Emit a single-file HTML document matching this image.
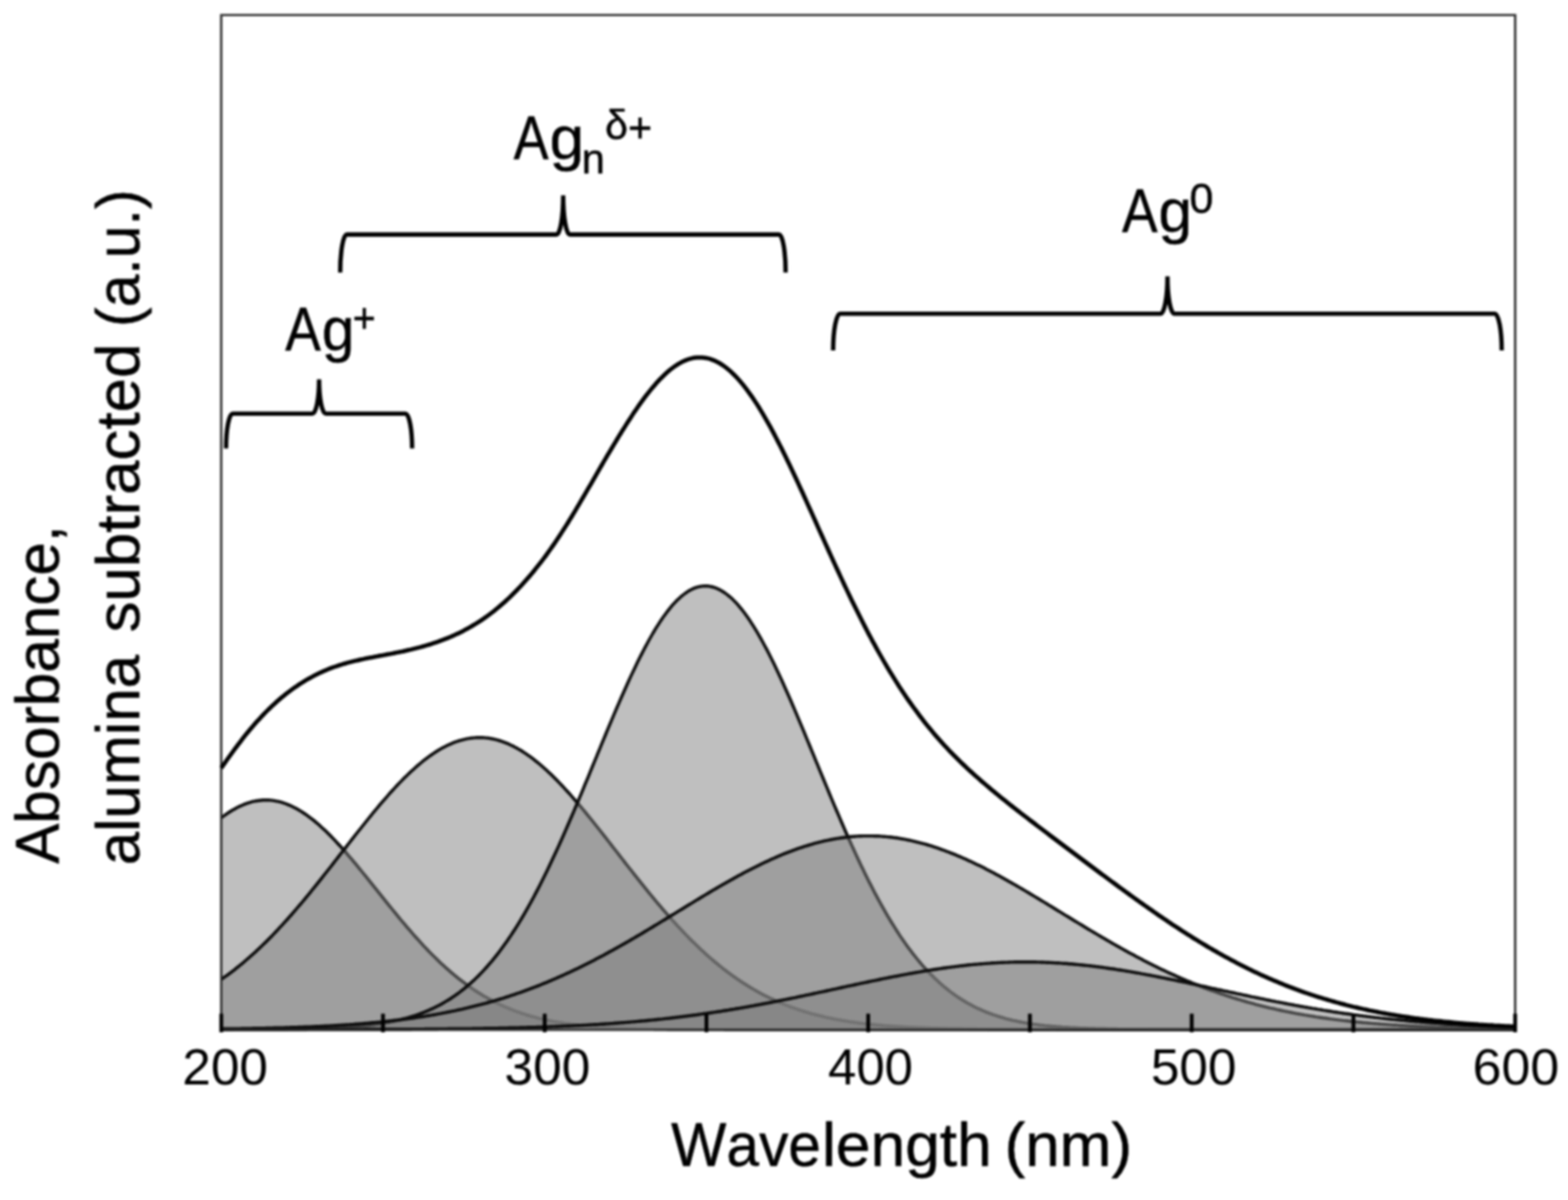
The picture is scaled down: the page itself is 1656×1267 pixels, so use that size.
<!DOCTYPE html>
<html lang="en"><head><meta charset="utf-8"><title>Absorbance spectrum</title>
<style>
html,body{margin:0;padding:0;background:#fff;}
body{width:1656px;height:1267px;overflow:hidden;}
svg{display:block;}
text{font-family:"Liberation Sans",sans-serif;fill:#000;stroke:#000;stroke-linejoin:round;font-kerning:none;white-space:pre;}
</style></head><body>
<svg width="1656" height="1267" viewBox="0 0 1656 1267">
<defs><filter id="soft" x="0" y="0" width="1656" height="1267" filterUnits="userSpaceOnUse" color-interpolation-filters="sRGB"><feGaussianBlur stdDeviation="0.8"/></filter></defs>
<rect width="1656" height="1267" fill="#fff"/>
<g filter="url(#soft)">
<g fill="#808080" fill-opacity="0.5" stroke="#0c0c0c" stroke-width="3.4" stroke-linejoin="round">
<path d="M233.7,863.5 L235.7,862.0 L237.7,860.5 L239.7,859.1 L241.7,857.8 L243.7,856.5 L245.7,855.3 L247.7,854.2 L249.7,853.1 L251.7,852.1 L253.7,851.1 L255.7,850.2 L257.6,849.4 L259.6,848.6 L261.6,847.9 L263.6,847.3 L265.6,846.7 L267.6,846.2 L269.6,845.8 L271.6,845.5 L273.6,845.2 L275.6,845.0 L277.6,844.8 L279.6,844.7 L281.6,844.7 L283.6,844.8 L285.6,844.9 L287.6,845.1 L289.6,845.4 L291.6,845.8 L293.6,846.2 L295.6,846.7 L297.6,847.2 L299.6,847.8 L301.6,848.5 L303.6,849.3 L305.6,850.1 L307.6,851.0 L309.6,852.0 L311.6,853.0 L313.6,854.1 L315.6,855.2 L317.6,856.4 L319.6,857.7 L321.6,859.0 L323.6,860.4 L325.6,861.8 L327.6,863.3 L329.6,864.8 L331.6,866.4 L333.6,868.1 L335.6,869.8 L337.6,871.6 L339.6,873.4 L341.6,875.2 L343.6,877.1 L345.6,879.0 L347.6,881.0 L349.6,883.0 L351.6,885.1 L353.6,887.2 L355.6,889.3 L357.6,891.5 L359.6,893.7 L361.6,895.9 L363.6,898.2 L365.6,900.4 L367.6,902.8 L369.6,905.1 L371.6,907.4 L373.6,909.8 L375.6,912.2 L377.6,914.6 L379.6,917.1 L381.6,919.5 L383.6,922.0 L385.6,924.4 L387.6,926.9 L389.6,929.4 L391.6,931.9 L393.6,934.4 L395.6,936.9 L397.6,939.4 L399.6,941.9 L401.6,944.4 L403.6,946.9 L405.6,949.4 L407.6,951.9 L409.6,954.4 L411.6,956.8 L413.6,959.3 L415.6,961.8 L417.6,964.2 L419.6,966.6 L421.6,969.1 L423.6,971.5 L425.6,973.8 L427.6,976.2 L429.6,978.6 L431.6,980.9 L433.6,983.2 L435.6,985.5 L437.6,987.8 L439.6,990.0 L441.6,992.2 L443.6,994.4 L445.6,996.6 L447.6,998.8 L449.6,1000.9 L451.6,1003.0 L453.6,1005.1 L455.6,1007.1 L457.6,1009.1 L459.6,1011.1 L461.6,1013.0 L463.6,1015.0 L465.6,1016.9 L467.6,1018.7 L469.6,1020.6 L471.6,1022.4 L473.6,1024.1 L475.6,1025.9 L477.6,1027.6 L479.6,1029.3 L481.6,1030.9 L483.6,1032.6 L485.6,1034.1 L487.6,1035.7 L489.6,1037.2 L491.6,1038.7 L493.6,1040.2 L495.6,1041.6 L497.6,1043.0 L499.6,1044.4 L501.6,1045.7 L503.6,1047.0 L505.6,1048.3 L507.6,1049.5 L509.6,1050.8 L511.6,1052.0 L513.6,1053.1 L515.6,1054.2 L517.6,1055.3 L519.6,1056.4 L521.6,1057.5 L523.6,1058.5 L525.6,1059.5 L527.6,1060.4 L529.6,1061.4 L531.6,1062.3 L533.6,1063.2 L535.6,1064.0 L537.6,1064.9 L539.6,1065.7 L541.6,1066.5 L543.6,1067.2 L545.6,1068.0 L547.6,1068.7 L549.6,1069.4 L551.6,1070.1 L553.6,1070.7 L555.6,1071.4 L557.6,1072.0 L559.6,1072.6 L561.6,1073.1 L563.6,1073.7 L565.6,1074.2 L567.6,1074.8 L569.6,1075.3 L571.6,1075.7 L573.6,1076.2 L575.6,1076.7 L577.6,1077.1 L579.6,1077.5 L581.6,1077.9 L583.6,1078.3 L585.6,1078.7 L587.6,1079.0 L589.6,1079.4 L591.6,1079.7 L593.6,1080.0 L595.6,1080.4 L597.6,1080.7 L599.6,1080.9 L601.6,1081.2 L603.6,1081.5 L605.6,1081.7 L607.6,1082.0 L609.6,1082.2 L611.6,1082.4 L613.6,1082.6 L615.6,1082.9 L617.6,1083.0 L619.6,1083.2 L621.6,1083.4 L623.6,1083.6 L625.6,1083.8 L627.6,1083.9 L629.6,1084.1 L631.6,1084.2 L633.6,1084.4 L635.6,1084.5 L637.6,1084.6 L639.6,1084.7 L641.6,1084.8 L643.6,1085.0 L645.6,1085.1 L647.6,1085.2 L649.6,1085.3 L651.6,1085.3 L653.6,1085.4 L655.6,1085.5 L657.6,1085.6 L659.6,1085.7 L661.6,1085.7 L663.6,1085.8 L665.6,1085.9 L667.6,1085.9 L669.6,1086.0 L671.6,1086.0 L673.6,1086.1 L675.6,1086.2 L677.6,1086.2 L679.6,1086.2 L681.6,1086.3 L683.6,1086.3 L685.6,1086.4 L687.6,1086.4 L689.6,1086.4 L691.6,1086.5 L693.6,1086.5 L695.6,1086.5 L697.6,1086.6 L699.6,1086.6 L701.6,1086.6 L703.6,1086.6 L705.6,1086.7 L707.6,1086.7 L709.6,1086.7 L711.6,1086.7 L713.6,1086.7 L715.6,1086.7 L717.6,1086.8 L719.6,1086.8 L721.6,1086.8 L723.6,1086.8 L725.6,1086.8 L727.6,1086.8 L729.6,1086.8 L731.6,1086.8 L733.6,1086.9 L735.6,1086.9 L737.6,1086.9 L739.6,1086.9 L741.6,1086.9 L743.6,1086.9 L745.6,1086.9 L747.6,1086.9 L749.6,1086.9 L751.6,1086.9 L753.6,1086.9 L755.6,1086.9 L757.6,1086.9 L759.6,1086.9 L761.6,1086.9 L763.6,1086.9 L765.6,1087.0 L767.6,1087.0 L769.6,1087.0 L771.6,1087.0 L773.6,1087.0 L775.6,1087.0 L777.6,1087.0 L779.6,1087.0 L781.6,1087.0 L783.6,1087.0 L785.6,1087.0 L787.6,1087.0 L789.6,1087.0 L791.6,1087.0 L793.6,1087.0 L795.6,1087.0 L797.6,1087.0 L799.6,1087.0 L801.6,1087.0 L803.6,1087.0 L805.6,1087.0 L807.6,1087.0 L809.6,1087.0 L811.6,1087.0 L813.6,1087.0 L815.6,1087.0 L817.6,1087.0 L819.6,1087.0 L821.6,1087.0 L823.6,1087.0 L825.6,1087.0 L827.6,1087.0 L829.6,1087.0 L831.6,1087.0 L833.6,1087.0 L835.6,1087.0 L837.6,1087.0 L839.6,1087.0 L841.6,1087.0 L843.6,1087.0 L845.6,1087.0 L847.6,1087.0 L849.6,1087.0 L851.6,1087.0 L853.6,1087.0 L855.6,1087.0 L857.6,1087.0 L859.6,1087.0 L861.6,1087.0 L863.6,1087.0 L865.6,1087.0 L867.6,1087.0 L869.6,1087.0 L871.6,1087.0 L873.6,1087.0 L875.6,1087.0 L877.6,1087.0 L879.6,1087.0 L881.6,1087.0 L883.6,1087.0 L885.6,1087.0 L887.6,1087.0 L889.6,1087.0 L891.6,1087.0 L893.6,1087.0 L895.6,1087.0 L897.6,1087.0 L899.6,1087.0 L901.6,1087.0 L903.6,1087.0 L905.6,1087.0 L907.6,1087.0 L909.6,1087.0 L911.6,1087.0 L913.6,1087.0 L915.6,1087.0 L917.6,1087.0 L919.6,1087.0 L921.6,1087.0 L923.6,1087.0 L925.6,1087.0 L927.6,1087.0 L929.6,1087.0 L931.6,1087.0 L933.6,1087.0 L935.6,1087.0 L937.6,1087.0 L939.6,1087.0 L941.6,1087.0 L943.6,1087.0 L945.6,1087.0 L947.6,1087.0 L949.6,1087.0 L951.6,1087.0 L953.6,1087.0 L955.6,1087.0 L957.6,1087.0 L959.6,1087.0 L961.6,1087.0 L963.6,1087.0 L965.6,1087.0 L967.6,1087.0 L969.6,1087.0 L971.6,1087.0 L973.6,1087.0 L975.6,1087.0 L977.6,1087.0 L979.6,1087.0 L981.6,1087.0 L983.6,1087.0 L985.6,1087.0 L987.6,1087.0 L989.6,1087.0 L991.6,1087.0 L993.6,1087.0 L995.6,1087.0 L997.6,1087.0 L999.6,1087.0 L1001.6,1087.0 L1003.6,1087.0 L1005.6,1087.0 L1007.6,1087.0 L1009.6,1087.0 L1011.6,1087.0 L1013.6,1087.0 L1015.6,1087.0 L1017.6,1087.0 L1019.6,1087.0 L1021.6,1087.0 L1023.6,1087.0 L1025.7,1087.0 L1027.7,1087.0 L1029.7,1087.0 L1031.7,1087.0 L1033.7,1087.0 L1035.7,1087.0 L1037.7,1087.0 L1039.7,1087.0 L1041.7,1087.0 L1043.7,1087.0 L1045.7,1087.0 L1047.7,1087.0 L1049.7,1087.0 L1051.7,1087.0 L1053.7,1087.0 L1055.7,1087.0 L1057.7,1087.0 L1059.7,1087.0 L1061.7,1087.0 L1063.7,1087.0 L1065.7,1087.0 L1067.7,1087.0 L1069.7,1087.0 L1071.7,1087.0 L1073.7,1087.0 L1075.7,1087.0 L1077.7,1087.0 L1079.7,1087.0 L1081.7,1087.0 L1083.7,1087.0 L1085.7,1087.0 L1087.7,1087.0 L1089.7,1087.0 L1091.7,1087.0 L1093.7,1087.0 L1095.7,1087.0 L1097.7,1087.0 L1099.7,1087.0 L1101.7,1087.0 L1103.7,1087.0 L1105.7,1087.0 L1107.7,1087.0 L1109.7,1087.0 L1111.7,1087.0 L1113.7,1087.0 L1115.7,1087.0 L1117.7,1087.0 L1119.7,1087.0 L1121.7,1087.0 L1123.7,1087.0 L1125.7,1087.0 L1127.7,1087.0 L1129.7,1087.0 L1131.7,1087.0 L1133.7,1087.0 L1135.7,1087.0 L1137.7,1087.0 L1139.7,1087.0 L1141.7,1087.0 L1143.7,1087.0 L1145.7,1087.0 L1147.7,1087.0 L1149.7,1087.0 L1151.7,1087.0 L1153.7,1087.0 L1155.7,1087.0 L1157.7,1087.0 L1159.7,1087.0 L1161.7,1087.0 L1163.7,1087.0 L1165.7,1087.0 L1167.7,1087.0 L1169.7,1087.0 L1171.7,1087.0 L1173.7,1087.0 L1175.7,1087.0 L1177.7,1087.0 L1179.7,1087.0 L1181.7,1087.0 L1183.7,1087.0 L1185.7,1087.0 L1187.7,1087.0 L1189.7,1087.0 L1191.7,1087.0 L1193.7,1087.0 L1195.7,1087.0 L1197.7,1087.0 L1199.7,1087.0 L1201.7,1087.0 L1203.7,1087.0 L1205.7,1087.0 L1207.7,1087.0 L1209.7,1087.0 L1211.7,1087.0 L1213.7,1087.0 L1215.7,1087.0 L1217.7,1087.0 L1219.7,1087.0 L1221.7,1087.0 L1223.7,1087.0 L1225.7,1087.0 L1227.7,1087.0 L1229.7,1087.0 L1231.7,1087.0 L1233.7,1087.0 L1235.7,1087.0 L1237.7,1087.0 L1239.7,1087.0 L1241.7,1087.0 L1243.7,1087.0 L1245.7,1087.0 L1247.7,1087.0 L1249.7,1087.0 L1251.7,1087.0 L1253.7,1087.0 L1255.7,1087.0 L1257.7,1087.0 L1259.7,1087.0 L1261.7,1087.0 L1263.7,1087.0 L1265.7,1087.0 L1267.7,1087.0 L1269.7,1087.0 L1271.7,1087.0 L1273.7,1087.0 L1275.7,1087.0 L1277.7,1087.0 L1279.7,1087.0 L1281.7,1087.0 L1283.7,1087.0 L1285.7,1087.0 L1287.7,1087.0 L1289.7,1087.0 L1291.7,1087.0 L1293.7,1087.0 L1295.7,1087.0 L1297.7,1087.0 L1299.7,1087.0 L1301.7,1087.0 L1303.7,1087.0 L1305.7,1087.0 L1307.7,1087.0 L1309.7,1087.0 L1311.7,1087.0 L1313.7,1087.0 L1315.7,1087.0 L1317.7,1087.0 L1319.7,1087.0 L1321.7,1087.0 L1323.7,1087.0 L1325.7,1087.0 L1327.7,1087.0 L1329.7,1087.0 L1331.7,1087.0 L1333.7,1087.0 L1335.7,1087.0 L1337.7,1087.0 L1339.7,1087.0 L1341.7,1087.0 L1343.7,1087.0 L1345.7,1087.0 L1347.7,1087.0 L1349.7,1087.0 L1351.7,1087.0 L1353.7,1087.0 L1355.7,1087.0 L1357.7,1087.0 L1359.7,1087.0 L1361.7,1087.0 L1363.7,1087.0 L1365.7,1087.0 L1367.7,1087.0 L1369.7,1087.0 L1371.7,1087.0 L1373.7,1087.0 L1375.7,1087.0 L1377.7,1087.0 L1379.7,1087.0 L1381.7,1087.0 L1383.7,1087.0 L1385.7,1087.0 L1387.7,1087.0 L1389.7,1087.0 L1391.7,1087.0 L1393.7,1087.0 L1395.7,1087.0 L1397.7,1087.0 L1399.7,1087.0 L1401.7,1087.0 L1403.7,1087.0 L1405.7,1087.0 L1407.7,1087.0 L1409.7,1087.0 L1411.7,1087.0 L1413.7,1087.0 L1415.7,1087.0 L1417.7,1087.0 L1419.7,1087.0 L1421.7,1087.0 L1423.7,1087.0 L1425.7,1087.0 L1427.7,1087.0 L1429.7,1087.0 L1431.7,1087.0 L1433.7,1087.0 L1435.7,1087.0 L1437.7,1087.0 L1439.7,1087.0 L1441.7,1087.0 L1443.7,1087.0 L1445.7,1087.0 L1447.7,1087.0 L1449.7,1087.0 L1451.7,1087.0 L1453.7,1087.0 L1455.7,1087.0 L1457.7,1087.0 L1459.7,1087.0 L1461.7,1087.0 L1463.7,1087.0 L1465.7,1087.0 L1467.7,1087.0 L1469.7,1087.0 L1471.7,1087.0 L1473.7,1087.0 L1475.7,1087.0 L1477.7,1087.0 L1479.7,1087.0 L1481.7,1087.0 L1483.7,1087.0 L1485.7,1087.0 L1487.7,1087.0 L1489.7,1087.0 L1491.7,1087.0 L1493.7,1087.0 L1495.7,1087.0 L1497.7,1087.0 L1499.7,1087.0 L1501.7,1087.0 L1503.7,1087.0 L1505.7,1087.0 L1507.7,1087.0 L1509.7,1087.0 L1511.7,1087.0 L1513.7,1087.0 L1515.7,1087.0 L1517.7,1087.0 L1519.7,1087.0 L1521.7,1087.0 L1523.7,1087.0 L1525.7,1087.0 L1527.7,1087.0 L1529.7,1087.0 L1531.7,1087.0 L1533.7,1087.0 L1535.7,1087.0 L1537.7,1087.0 L1539.7,1087.0 L1541.7,1087.0 L1543.7,1087.0 L1545.7,1087.0 L1547.7,1087.0 L1549.7,1087.0 L1551.7,1087.0 L1553.7,1087.0 L1555.7,1087.0 L1557.7,1087.0 L1559.7,1087.0 L1561.7,1087.0 L1563.7,1087.0 L1565.7,1087.0 L1567.7,1087.0 L1569.7,1087.0 L1571.7,1087.0 L1573.7,1087.0 L1575.7,1087.0 L1577.7,1087.0 L1579.7,1087.0 L1581.7,1087.0 L1583.7,1087.0 L1585.7,1087.0 L1587.7,1087.0 L1589.7,1087.0 L1591.7,1087.0 L1593.7,1087.0 L1595.7,1087.0 L1597.7,1087.0 L1600.2,1087.0 L1600.2,1087.0 L233.7,1087.0 Z" stroke="none"/>
<path d="M233.7,863.5 L235.7,862.0 L237.7,860.5 L239.7,859.1 L241.7,857.8 L243.7,856.5 L245.7,855.3 L247.7,854.2 L249.7,853.1 L251.7,852.1 L253.7,851.1 L255.7,850.2 L257.6,849.4 L259.6,848.6 L261.6,847.9 L263.6,847.3 L265.6,846.7 L267.6,846.2 L269.6,845.8 L271.6,845.5 L273.6,845.2 L275.6,845.0 L277.6,844.8 L279.6,844.7 L281.6,844.7 L283.6,844.8 L285.6,844.9 L287.6,845.1 L289.6,845.4 L291.6,845.8 L293.6,846.2 L295.6,846.7 L297.6,847.2 L299.6,847.8 L301.6,848.5 L303.6,849.3 L305.6,850.1 L307.6,851.0 L309.6,852.0 L311.6,853.0 L313.6,854.1 L315.6,855.2 L317.6,856.4 L319.6,857.7 L321.6,859.0 L323.6,860.4 L325.6,861.8 L327.6,863.3 L329.6,864.8 L331.6,866.4 L333.6,868.1 L335.6,869.8 L337.6,871.6 L339.6,873.4 L341.6,875.2 L343.6,877.1 L345.6,879.0 L347.6,881.0 L349.6,883.0 L351.6,885.1 L353.6,887.2 L355.6,889.3 L357.6,891.5 L359.6,893.7 L361.6,895.9 L363.6,898.2 L365.6,900.4 L367.6,902.8 L369.6,905.1 L371.6,907.4 L373.6,909.8 L375.6,912.2 L377.6,914.6 L379.6,917.1 L381.6,919.5 L383.6,922.0 L385.6,924.4 L387.6,926.9 L389.6,929.4 L391.6,931.9 L393.6,934.4 L395.6,936.9 L397.6,939.4 L399.6,941.9 L401.6,944.4 L403.6,946.9 L405.6,949.4 L407.6,951.9 L409.6,954.4 L411.6,956.8 L413.6,959.3 L415.6,961.8 L417.6,964.2 L419.6,966.6 L421.6,969.1 L423.6,971.5 L425.6,973.8 L427.6,976.2 L429.6,978.6 L431.6,980.9 L433.6,983.2 L435.6,985.5 L437.6,987.8 L439.6,990.0 L441.6,992.2 L443.6,994.4 L445.6,996.6 L447.6,998.8 L449.6,1000.9 L451.6,1003.0 L453.6,1005.1 L455.6,1007.1 L457.6,1009.1 L459.6,1011.1 L461.6,1013.0 L463.6,1015.0 L465.6,1016.9 L467.6,1018.7 L469.6,1020.6 L471.6,1022.4 L473.6,1024.1 L475.6,1025.9 L477.6,1027.6 L479.6,1029.3 L481.6,1030.9 L483.6,1032.6 L485.6,1034.1 L487.6,1035.7 L489.6,1037.2 L491.6,1038.7 L493.6,1040.2 L495.6,1041.6 L497.6,1043.0 L499.6,1044.4 L501.6,1045.7 L503.6,1047.0 L505.6,1048.3 L507.6,1049.5 L509.6,1050.8 L511.6,1052.0 L513.6,1053.1 L515.6,1054.2 L517.6,1055.3 L519.6,1056.4 L521.6,1057.5 L523.6,1058.5 L525.6,1059.5 L527.6,1060.4 L529.6,1061.4 L531.6,1062.3 L533.6,1063.2 L535.6,1064.0 L537.6,1064.9 L539.6,1065.7 L541.6,1066.5 L543.6,1067.2 L545.6,1068.0 L547.6,1068.7 L549.6,1069.4 L551.6,1070.1 L553.6,1070.7 L555.6,1071.4 L557.6,1072.0 L559.6,1072.6 L561.6,1073.1 L563.6,1073.7 L565.6,1074.2 L567.6,1074.8 L569.6,1075.3 L571.6,1075.7 L573.6,1076.2 L575.6,1076.7 L577.6,1077.1 L579.6,1077.5 L581.6,1077.9 L583.6,1078.3 L585.6,1078.7 L587.6,1079.0 L589.6,1079.4 L591.6,1079.7 L593.6,1080.0 L595.6,1080.4 L597.6,1080.7 L599.6,1080.9 L601.6,1081.2 L603.6,1081.5 L605.6,1081.7 L607.6,1082.0 L609.6,1082.2 L611.6,1082.4 L613.6,1082.6 L615.6,1082.9 L617.6,1083.0 L619.6,1083.2 L621.6,1083.4 L623.6,1083.6 L625.6,1083.8 L627.6,1083.9 L629.6,1084.1 L631.6,1084.2 L633.6,1084.4 L635.6,1084.5 L637.6,1084.6 L639.6,1084.7 L641.6,1084.8 L643.6,1085.0 L645.6,1085.1 L647.6,1085.2 L649.6,1085.3 L651.6,1085.3 L653.6,1085.4 L655.6,1085.5 L657.6,1085.6 L659.6,1085.7 L661.6,1085.7 L663.6,1085.8 L665.6,1085.9 L667.6,1085.9 L669.6,1086.0 L671.6,1086.0 L673.6,1086.1 L675.6,1086.2 L677.6,1086.2 L679.6,1086.2 L681.6,1086.3 L683.6,1086.3 L685.6,1086.4 L687.6,1086.4 L689.6,1086.4 L691.6,1086.5 L693.6,1086.5 L695.6,1086.5 L697.6,1086.6 L699.6,1086.6 L701.6,1086.6 L703.6,1086.6 L705.6,1086.7 L707.6,1086.7 L709.6,1086.7 L711.6,1086.7 L713.6,1086.7 L715.6,1086.7 L717.6,1086.8 L719.6,1086.8 L721.6,1086.8 L723.6,1086.8 L725.6,1086.8 L727.6,1086.8 L729.6,1086.8 L731.6,1086.8 L733.6,1086.9 L735.6,1086.9 L737.6,1086.9 L739.6,1086.9 L741.6,1086.9 L743.6,1086.9 L745.6,1086.9 L747.6,1086.9 L749.6,1086.9 L751.6,1086.9 L753.6,1086.9 L755.6,1086.9 L757.6,1086.9 L759.6,1086.9 L761.6,1086.9 L763.6,1086.9 L765.6,1087.0 L767.6,1087.0 L769.6,1087.0 L771.6,1087.0 L773.6,1087.0 L775.6,1087.0 L777.6,1087.0 L779.6,1087.0 L781.6,1087.0 L783.6,1087.0 L785.6,1087.0 L787.6,1087.0 L789.6,1087.0 L791.6,1087.0 L793.6,1087.0 L795.6,1087.0 L797.6,1087.0 L799.6,1087.0 L801.6,1087.0 L803.6,1087.0 L805.6,1087.0 L807.6,1087.0 L809.6,1087.0 L811.6,1087.0 L813.6,1087.0 L815.6,1087.0 L817.6,1087.0 L819.6,1087.0 L821.6,1087.0 L823.6,1087.0 L825.6,1087.0 L827.6,1087.0 L829.6,1087.0 L831.6,1087.0 L833.6,1087.0 L835.6,1087.0 L837.6,1087.0 L839.6,1087.0 L841.6,1087.0 L843.6,1087.0 L845.6,1087.0 L847.6,1087.0 L849.6,1087.0 L851.6,1087.0 L853.6,1087.0 L855.6,1087.0 L857.6,1087.0 L859.6,1087.0 L861.6,1087.0 L863.6,1087.0 L865.6,1087.0 L867.6,1087.0 L869.6,1087.0 L871.6,1087.0 L873.6,1087.0 L875.6,1087.0 L877.6,1087.0 L879.6,1087.0 L881.6,1087.0 L883.6,1087.0 L885.6,1087.0 L887.6,1087.0 L889.6,1087.0 L891.6,1087.0 L893.6,1087.0 L895.6,1087.0 L897.6,1087.0 L899.6,1087.0 L901.6,1087.0 L903.6,1087.0 L905.6,1087.0 L907.6,1087.0 L909.6,1087.0 L911.6,1087.0 L913.6,1087.0 L915.6,1087.0 L917.6,1087.0 L919.6,1087.0 L921.6,1087.0 L923.6,1087.0 L925.6,1087.0 L927.6,1087.0 L929.6,1087.0 L931.6,1087.0 L933.6,1087.0 L935.6,1087.0 L937.6,1087.0 L939.6,1087.0 L941.6,1087.0 L943.6,1087.0 L945.6,1087.0 L947.6,1087.0 L949.6,1087.0 L951.6,1087.0 L953.6,1087.0 L955.6,1087.0 L957.6,1087.0 L959.6,1087.0 L961.6,1087.0 L963.6,1087.0 L965.6,1087.0 L967.6,1087.0 L969.6,1087.0 L971.6,1087.0 L973.6,1087.0 L975.6,1087.0 L977.6,1087.0 L979.6,1087.0 L981.6,1087.0 L983.6,1087.0 L985.6,1087.0 L987.6,1087.0 L989.6,1087.0 L991.6,1087.0 L993.6,1087.0 L995.6,1087.0 L997.6,1087.0 L999.6,1087.0 L1001.6,1087.0 L1003.6,1087.0 L1005.6,1087.0 L1007.6,1087.0 L1009.6,1087.0 L1011.6,1087.0 L1013.6,1087.0 L1015.6,1087.0 L1017.6,1087.0 L1019.6,1087.0 L1021.6,1087.0 L1023.6,1087.0 L1025.7,1087.0 L1027.7,1087.0 L1029.7,1087.0 L1031.7,1087.0 L1033.7,1087.0 L1035.7,1087.0 L1037.7,1087.0 L1039.7,1087.0 L1041.7,1087.0 L1043.7,1087.0 L1045.7,1087.0 L1047.7,1087.0 L1049.7,1087.0 L1051.7,1087.0 L1053.7,1087.0 L1055.7,1087.0 L1057.7,1087.0 L1059.7,1087.0 L1061.7,1087.0 L1063.7,1087.0 L1065.7,1087.0 L1067.7,1087.0 L1069.7,1087.0 L1071.7,1087.0 L1073.7,1087.0 L1075.7,1087.0 L1077.7,1087.0 L1079.7,1087.0 L1081.7,1087.0 L1083.7,1087.0 L1085.7,1087.0 L1087.7,1087.0 L1089.7,1087.0 L1091.7,1087.0 L1093.7,1087.0 L1095.7,1087.0 L1097.7,1087.0 L1099.7,1087.0 L1101.7,1087.0 L1103.7,1087.0 L1105.7,1087.0 L1107.7,1087.0 L1109.7,1087.0 L1111.7,1087.0 L1113.7,1087.0 L1115.7,1087.0 L1117.7,1087.0 L1119.7,1087.0 L1121.7,1087.0 L1123.7,1087.0 L1125.7,1087.0 L1127.7,1087.0 L1129.7,1087.0 L1131.7,1087.0 L1133.7,1087.0 L1135.7,1087.0 L1137.7,1087.0 L1139.7,1087.0 L1141.7,1087.0 L1143.7,1087.0 L1145.7,1087.0 L1147.7,1087.0 L1149.7,1087.0 L1151.7,1087.0 L1153.7,1087.0 L1155.7,1087.0 L1157.7,1087.0 L1159.7,1087.0 L1161.7,1087.0 L1163.7,1087.0 L1165.7,1087.0 L1167.7,1087.0 L1169.7,1087.0 L1171.7,1087.0 L1173.7,1087.0 L1175.7,1087.0 L1177.7,1087.0 L1179.7,1087.0 L1181.7,1087.0 L1183.7,1087.0 L1185.7,1087.0 L1187.7,1087.0 L1189.7,1087.0 L1191.7,1087.0 L1193.7,1087.0 L1195.7,1087.0 L1197.7,1087.0 L1199.7,1087.0 L1201.7,1087.0 L1203.7,1087.0 L1205.7,1087.0 L1207.7,1087.0 L1209.7,1087.0 L1211.7,1087.0 L1213.7,1087.0 L1215.7,1087.0 L1217.7,1087.0 L1219.7,1087.0 L1221.7,1087.0 L1223.7,1087.0 L1225.7,1087.0 L1227.7,1087.0 L1229.7,1087.0 L1231.7,1087.0 L1233.7,1087.0 L1235.7,1087.0 L1237.7,1087.0 L1239.7,1087.0 L1241.7,1087.0 L1243.7,1087.0 L1245.7,1087.0 L1247.7,1087.0 L1249.7,1087.0 L1251.7,1087.0 L1253.7,1087.0 L1255.7,1087.0 L1257.7,1087.0 L1259.7,1087.0 L1261.7,1087.0 L1263.7,1087.0 L1265.7,1087.0 L1267.7,1087.0 L1269.7,1087.0 L1271.7,1087.0 L1273.7,1087.0 L1275.7,1087.0 L1277.7,1087.0 L1279.7,1087.0 L1281.7,1087.0 L1283.7,1087.0 L1285.7,1087.0 L1287.7,1087.0 L1289.7,1087.0 L1291.7,1087.0 L1293.7,1087.0 L1295.7,1087.0 L1297.7,1087.0 L1299.7,1087.0 L1301.7,1087.0 L1303.7,1087.0 L1305.7,1087.0 L1307.7,1087.0 L1309.7,1087.0 L1311.7,1087.0 L1313.7,1087.0 L1315.7,1087.0 L1317.7,1087.0 L1319.7,1087.0 L1321.7,1087.0 L1323.7,1087.0 L1325.7,1087.0 L1327.7,1087.0 L1329.7,1087.0 L1331.7,1087.0 L1333.7,1087.0 L1335.7,1087.0 L1337.7,1087.0 L1339.7,1087.0 L1341.7,1087.0 L1343.7,1087.0 L1345.7,1087.0 L1347.7,1087.0 L1349.7,1087.0 L1351.7,1087.0 L1353.7,1087.0 L1355.7,1087.0 L1357.7,1087.0 L1359.7,1087.0 L1361.7,1087.0 L1363.7,1087.0 L1365.7,1087.0 L1367.7,1087.0 L1369.7,1087.0 L1371.7,1087.0 L1373.7,1087.0 L1375.7,1087.0 L1377.7,1087.0 L1379.7,1087.0 L1381.7,1087.0 L1383.7,1087.0 L1385.7,1087.0 L1387.7,1087.0 L1389.7,1087.0 L1391.7,1087.0 L1393.7,1087.0 L1395.7,1087.0 L1397.7,1087.0 L1399.7,1087.0 L1401.7,1087.0 L1403.7,1087.0 L1405.7,1087.0 L1407.7,1087.0 L1409.7,1087.0 L1411.7,1087.0 L1413.7,1087.0 L1415.7,1087.0 L1417.7,1087.0 L1419.7,1087.0 L1421.7,1087.0 L1423.7,1087.0 L1425.7,1087.0 L1427.7,1087.0 L1429.7,1087.0 L1431.7,1087.0 L1433.7,1087.0 L1435.7,1087.0 L1437.7,1087.0 L1439.7,1087.0 L1441.7,1087.0 L1443.7,1087.0 L1445.7,1087.0 L1447.7,1087.0 L1449.7,1087.0 L1451.7,1087.0 L1453.7,1087.0 L1455.7,1087.0 L1457.7,1087.0 L1459.7,1087.0 L1461.7,1087.0 L1463.7,1087.0 L1465.7,1087.0 L1467.7,1087.0 L1469.7,1087.0 L1471.7,1087.0 L1473.7,1087.0 L1475.7,1087.0 L1477.7,1087.0 L1479.7,1087.0 L1481.7,1087.0 L1483.7,1087.0 L1485.7,1087.0 L1487.7,1087.0 L1489.7,1087.0 L1491.7,1087.0 L1493.7,1087.0 L1495.7,1087.0 L1497.7,1087.0 L1499.7,1087.0 L1501.7,1087.0 L1503.7,1087.0 L1505.7,1087.0 L1507.7,1087.0 L1509.7,1087.0 L1511.7,1087.0 L1513.7,1087.0 L1515.7,1087.0 L1517.7,1087.0 L1519.7,1087.0 L1521.7,1087.0 L1523.7,1087.0 L1525.7,1087.0 L1527.7,1087.0 L1529.7,1087.0 L1531.7,1087.0 L1533.7,1087.0 L1535.7,1087.0 L1537.7,1087.0 L1539.7,1087.0 L1541.7,1087.0 L1543.7,1087.0 L1545.7,1087.0 L1547.7,1087.0 L1549.7,1087.0 L1551.7,1087.0 L1553.7,1087.0 L1555.7,1087.0 L1557.7,1087.0 L1559.7,1087.0 L1561.7,1087.0 L1563.7,1087.0 L1565.7,1087.0 L1567.7,1087.0 L1569.7,1087.0 L1571.7,1087.0 L1573.7,1087.0 L1575.7,1087.0 L1577.7,1087.0 L1579.7,1087.0 L1581.7,1087.0 L1583.7,1087.0 L1585.7,1087.0 L1587.7,1087.0 L1589.7,1087.0 L1591.7,1087.0 L1593.7,1087.0 L1595.7,1087.0 L1597.7,1087.0 L1600.2,1087.0" fill="none"/>
<path d="M233.7,1034.0 L235.7,1032.6 L237.7,1031.2 L239.7,1029.8 L241.7,1028.3 L243.7,1026.8 L245.7,1025.3 L247.7,1023.8 L249.7,1022.2 L251.7,1020.6 L253.7,1019.0 L255.7,1017.4 L257.6,1015.7 L259.6,1014.0 L261.6,1012.3 L263.6,1010.6 L265.6,1008.8 L267.6,1007.0 L269.6,1005.2 L271.6,1003.3 L273.6,1001.5 L275.6,999.6 L277.6,997.6 L279.6,995.7 L281.6,993.7 L283.6,991.7 L285.6,989.7 L287.6,987.7 L289.6,985.6 L291.6,983.5 L293.6,981.4 L295.6,979.2 L297.6,977.1 L299.6,974.9 L301.6,972.7 L303.6,970.5 L305.6,968.2 L307.6,966.0 L309.6,963.7 L311.6,961.4 L313.6,959.0 L315.6,956.7 L317.6,954.3 L319.6,952.0 L321.6,949.6 L323.6,947.2 L325.6,944.7 L327.6,942.3 L329.6,939.8 L331.6,937.4 L333.6,934.9 L335.6,932.4 L337.6,929.9 L339.6,927.4 L341.6,924.8 L343.6,922.3 L345.6,919.8 L347.6,917.2 L349.6,914.7 L351.6,912.1 L353.6,909.5 L355.6,907.0 L357.6,904.4 L359.6,901.8 L361.6,899.3 L363.6,896.7 L365.6,894.1 L367.6,891.5 L369.6,889.0 L371.6,886.4 L373.6,883.9 L375.6,881.3 L377.6,878.8 L379.6,876.2 L381.6,873.7 L383.6,871.2 L385.6,868.7 L387.6,866.2 L389.6,863.7 L391.6,861.3 L393.6,858.8 L395.6,856.4 L397.6,854.0 L399.6,851.6 L401.6,849.2 L403.6,846.9 L405.6,844.6 L407.6,842.3 L409.6,840.0 L411.6,837.7 L413.6,835.5 L415.6,833.3 L417.6,831.2 L419.6,829.0 L421.6,826.9 L423.6,824.9 L425.6,822.8 L427.6,820.8 L429.6,818.9 L431.6,816.9 L433.6,815.0 L435.6,813.2 L437.6,811.4 L439.6,809.6 L441.6,807.9 L443.6,806.2 L445.6,804.5 L447.6,802.9 L449.6,801.4 L451.6,799.8 L453.6,798.4 L455.6,797.0 L457.6,795.6 L459.6,794.3 L461.6,793.0 L463.6,791.8 L465.6,790.6 L467.6,789.5 L469.6,788.4 L471.6,787.4 L473.6,786.5 L475.6,785.6 L477.6,784.7 L479.6,783.9 L481.6,783.2 L483.6,782.5 L485.6,781.9 L487.6,781.3 L489.6,780.8 L491.6,780.3 L493.6,779.9 L495.6,779.6 L497.6,779.3 L499.6,779.1 L501.6,778.9 L503.6,778.8 L505.6,778.7 L507.6,778.7 L509.6,778.8 L511.6,778.9 L513.6,779.1 L515.6,779.3 L517.6,779.6 L519.6,780.0 L521.6,780.4 L523.6,780.9 L525.6,781.4 L527.6,782.0 L529.6,782.6 L531.6,783.3 L533.6,784.1 L535.6,784.9 L537.6,785.7 L539.6,786.7 L541.6,787.6 L543.6,788.7 L545.6,789.7 L547.6,790.9 L549.6,792.0 L551.6,793.3 L553.6,794.6 L555.6,795.9 L557.6,797.3 L559.6,798.7 L561.6,800.2 L563.6,801.7 L565.6,803.3 L567.6,804.9 L569.6,806.5 L571.6,808.2 L573.6,810.0 L575.6,811.8 L577.6,813.6 L579.6,815.4 L581.6,817.3 L583.6,819.3 L585.6,821.3 L587.6,823.3 L589.6,825.3 L591.6,827.4 L593.6,829.5 L595.6,831.6 L597.6,833.8 L599.6,836.0 L601.6,838.2 L603.6,840.5 L605.6,842.8 L607.6,845.1 L609.6,847.4 L611.6,849.8 L613.6,852.1 L615.6,854.5 L617.6,856.9 L619.6,859.4 L621.6,861.8 L623.6,864.3 L625.6,866.8 L627.6,869.3 L629.6,871.8 L631.6,874.3 L633.6,876.8 L635.6,879.3 L637.6,881.9 L639.6,884.4 L641.6,887.0 L643.6,889.5 L645.6,892.1 L647.6,894.7 L649.6,897.3 L651.6,899.8 L653.6,902.4 L655.6,905.0 L657.6,907.5 L659.6,910.1 L661.6,912.7 L663.6,915.2 L665.6,917.8 L667.6,920.3 L669.6,922.9 L671.6,925.4 L673.6,927.9 L675.6,930.4 L677.6,932.9 L679.6,935.4 L681.6,937.9 L683.6,940.4 L685.6,942.8 L687.6,945.3 L689.6,947.7 L691.6,950.1 L693.6,952.5 L695.6,954.9 L697.6,957.2 L699.6,959.6 L701.6,961.9 L703.6,964.2 L705.6,966.5 L707.6,968.7 L709.6,971.0 L711.6,973.2 L713.6,975.4 L715.6,977.6 L717.6,979.7 L719.6,981.9 L721.6,984.0 L723.6,986.1 L725.6,988.1 L727.6,990.2 L729.6,992.2 L731.6,994.2 L733.6,996.1 L735.6,998.1 L737.6,1000.0 L739.6,1001.9 L741.6,1003.7 L743.6,1005.6 L745.6,1007.4 L747.6,1009.2 L749.6,1011.0 L751.6,1012.7 L753.6,1014.4 L755.6,1016.1 L757.6,1017.7 L759.6,1019.4 L761.6,1021.0 L763.6,1022.6 L765.6,1024.1 L767.6,1025.7 L769.6,1027.2 L771.6,1028.6 L773.6,1030.1 L775.6,1031.5 L777.6,1032.9 L779.6,1034.3 L781.6,1035.6 L783.6,1037.0 L785.6,1038.3 L787.6,1039.5 L789.6,1040.8 L791.6,1042.0 L793.6,1043.2 L795.6,1044.4 L797.6,1045.6 L799.6,1046.7 L801.6,1047.8 L803.6,1048.9 L805.6,1049.9 L807.6,1051.0 L809.6,1052.0 L811.6,1053.0 L813.6,1054.0 L815.6,1054.9 L817.6,1055.8 L819.6,1056.7 L821.6,1057.6 L823.6,1058.5 L825.6,1059.3 L827.6,1060.2 L829.6,1061.0 L831.6,1061.8 L833.6,1062.5 L835.6,1063.3 L837.6,1064.0 L839.6,1064.7 L841.6,1065.4 L843.6,1066.1 L845.6,1066.7 L847.6,1067.4 L849.6,1068.0 L851.6,1068.6 L853.6,1069.2 L855.6,1069.8 L857.6,1070.4 L859.6,1070.9 L861.6,1071.4 L863.6,1071.9 L865.6,1072.4 L867.6,1072.9 L869.6,1073.4 L871.6,1073.9 L873.6,1074.3 L875.6,1074.7 L877.6,1075.2 L879.6,1075.6 L881.6,1076.0 L883.6,1076.4 L885.6,1076.7 L887.6,1077.1 L889.6,1077.5 L891.6,1077.8 L893.6,1078.1 L895.6,1078.4 L897.6,1078.8 L899.6,1079.1 L901.6,1079.3 L903.6,1079.6 L905.6,1079.9 L907.6,1080.2 L909.6,1080.4 L911.6,1080.7 L913.6,1080.9 L915.6,1081.1 L917.6,1081.4 L919.6,1081.6 L921.6,1081.8 L923.6,1082.0 L925.6,1082.2 L927.6,1082.4 L929.6,1082.5 L931.6,1082.7 L933.6,1082.9 L935.6,1083.1 L937.6,1083.2 L939.6,1083.4 L941.6,1083.5 L943.6,1083.7 L945.6,1083.8 L947.6,1083.9 L949.6,1084.0 L951.6,1084.2 L953.6,1084.3 L955.6,1084.4 L957.6,1084.5 L959.6,1084.6 L961.6,1084.7 L963.6,1084.8 L965.6,1084.9 L967.6,1085.0 L969.6,1085.1 L971.6,1085.2 L973.6,1085.2 L975.6,1085.3 L977.6,1085.4 L979.6,1085.5 L981.6,1085.5 L983.6,1085.6 L985.6,1085.7 L987.6,1085.7 L989.6,1085.8 L991.6,1085.8 L993.6,1085.9 L995.6,1085.9 L997.6,1086.0 L999.6,1086.0 L1001.6,1086.1 L1003.6,1086.1 L1005.6,1086.2 L1007.6,1086.2 L1009.6,1086.2 L1011.6,1086.3 L1013.6,1086.3 L1015.6,1086.3 L1017.6,1086.4 L1019.6,1086.4 L1021.6,1086.4 L1023.6,1086.5 L1025.7,1086.5 L1027.7,1086.5 L1029.7,1086.5 L1031.7,1086.5 L1033.7,1086.6 L1035.7,1086.6 L1037.7,1086.6 L1039.7,1086.6 L1041.7,1086.6 L1043.7,1086.7 L1045.7,1086.7 L1047.7,1086.7 L1049.7,1086.7 L1051.7,1086.7 L1053.7,1086.7 L1055.7,1086.8 L1057.7,1086.8 L1059.7,1086.8 L1061.7,1086.8 L1063.7,1086.8 L1065.7,1086.8 L1067.7,1086.8 L1069.7,1086.8 L1071.7,1086.8 L1073.7,1086.8 L1075.7,1086.9 L1077.7,1086.9 L1079.7,1086.9 L1081.7,1086.9 L1083.7,1086.9 L1085.7,1086.9 L1087.7,1086.9 L1089.7,1086.9 L1091.7,1086.9 L1093.7,1086.9 L1095.7,1086.9 L1097.7,1086.9 L1099.7,1086.9 L1101.7,1086.9 L1103.7,1086.9 L1105.7,1086.9 L1107.7,1086.9 L1109.7,1086.9 L1111.7,1086.9 L1113.7,1086.9 L1115.7,1087.0 L1117.7,1087.0 L1119.7,1087.0 L1121.7,1087.0 L1123.7,1087.0 L1125.7,1087.0 L1127.7,1087.0 L1129.7,1087.0 L1131.7,1087.0 L1133.7,1087.0 L1135.7,1087.0 L1137.7,1087.0 L1139.7,1087.0 L1141.7,1087.0 L1143.7,1087.0 L1145.7,1087.0 L1147.7,1087.0 L1149.7,1087.0 L1151.7,1087.0 L1153.7,1087.0 L1155.7,1087.0 L1157.7,1087.0 L1159.7,1087.0 L1161.7,1087.0 L1163.7,1087.0 L1165.7,1087.0 L1167.7,1087.0 L1169.7,1087.0 L1171.7,1087.0 L1173.7,1087.0 L1175.7,1087.0 L1177.7,1087.0 L1179.7,1087.0 L1181.7,1087.0 L1183.7,1087.0 L1185.7,1087.0 L1187.7,1087.0 L1189.7,1087.0 L1191.7,1087.0 L1193.7,1087.0 L1195.7,1087.0 L1197.7,1087.0 L1199.7,1087.0 L1201.7,1087.0 L1203.7,1087.0 L1205.7,1087.0 L1207.7,1087.0 L1209.7,1087.0 L1211.7,1087.0 L1213.7,1087.0 L1215.7,1087.0 L1217.7,1087.0 L1219.7,1087.0 L1221.7,1087.0 L1223.7,1087.0 L1225.7,1087.0 L1227.7,1087.0 L1229.7,1087.0 L1231.7,1087.0 L1233.7,1087.0 L1235.7,1087.0 L1237.7,1087.0 L1239.7,1087.0 L1241.7,1087.0 L1243.7,1087.0 L1245.7,1087.0 L1247.7,1087.0 L1249.7,1087.0 L1251.7,1087.0 L1253.7,1087.0 L1255.7,1087.0 L1257.7,1087.0 L1259.7,1087.0 L1261.7,1087.0 L1263.7,1087.0 L1265.7,1087.0 L1267.7,1087.0 L1269.7,1087.0 L1271.7,1087.0 L1273.7,1087.0 L1275.7,1087.0 L1277.7,1087.0 L1279.7,1087.0 L1281.7,1087.0 L1283.7,1087.0 L1285.7,1087.0 L1287.7,1087.0 L1289.7,1087.0 L1291.7,1087.0 L1293.7,1087.0 L1295.7,1087.0 L1297.7,1087.0 L1299.7,1087.0 L1301.7,1087.0 L1303.7,1087.0 L1305.7,1087.0 L1307.7,1087.0 L1309.7,1087.0 L1311.7,1087.0 L1313.7,1087.0 L1315.7,1087.0 L1317.7,1087.0 L1319.7,1087.0 L1321.7,1087.0 L1323.7,1087.0 L1325.7,1087.0 L1327.7,1087.0 L1329.7,1087.0 L1331.7,1087.0 L1333.7,1087.0 L1335.7,1087.0 L1337.7,1087.0 L1339.7,1087.0 L1341.7,1087.0 L1343.7,1087.0 L1345.7,1087.0 L1347.7,1087.0 L1349.7,1087.0 L1351.7,1087.0 L1353.7,1087.0 L1355.7,1087.0 L1357.7,1087.0 L1359.7,1087.0 L1361.7,1087.0 L1363.7,1087.0 L1365.7,1087.0 L1367.7,1087.0 L1369.7,1087.0 L1371.7,1087.0 L1373.7,1087.0 L1375.7,1087.0 L1377.7,1087.0 L1379.7,1087.0 L1381.7,1087.0 L1383.7,1087.0 L1385.7,1087.0 L1387.7,1087.0 L1389.7,1087.0 L1391.7,1087.0 L1393.7,1087.0 L1395.7,1087.0 L1397.7,1087.0 L1399.7,1087.0 L1401.7,1087.0 L1403.7,1087.0 L1405.7,1087.0 L1407.7,1087.0 L1409.7,1087.0 L1411.7,1087.0 L1413.7,1087.0 L1415.7,1087.0 L1417.7,1087.0 L1419.7,1087.0 L1421.7,1087.0 L1423.7,1087.0 L1425.7,1087.0 L1427.7,1087.0 L1429.7,1087.0 L1431.7,1087.0 L1433.7,1087.0 L1435.7,1087.0 L1437.7,1087.0 L1439.7,1087.0 L1441.7,1087.0 L1443.7,1087.0 L1445.7,1087.0 L1447.7,1087.0 L1449.7,1087.0 L1451.7,1087.0 L1453.7,1087.0 L1455.7,1087.0 L1457.7,1087.0 L1459.7,1087.0 L1461.7,1087.0 L1463.7,1087.0 L1465.7,1087.0 L1467.7,1087.0 L1469.7,1087.0 L1471.7,1087.0 L1473.7,1087.0 L1475.7,1087.0 L1477.7,1087.0 L1479.7,1087.0 L1481.7,1087.0 L1483.7,1087.0 L1485.7,1087.0 L1487.7,1087.0 L1489.7,1087.0 L1491.7,1087.0 L1493.7,1087.0 L1495.7,1087.0 L1497.7,1087.0 L1499.7,1087.0 L1501.7,1087.0 L1503.7,1087.0 L1505.7,1087.0 L1507.7,1087.0 L1509.7,1087.0 L1511.7,1087.0 L1513.7,1087.0 L1515.7,1087.0 L1517.7,1087.0 L1519.7,1087.0 L1521.7,1087.0 L1523.7,1087.0 L1525.7,1087.0 L1527.7,1087.0 L1529.7,1087.0 L1531.7,1087.0 L1533.7,1087.0 L1535.7,1087.0 L1537.7,1087.0 L1539.7,1087.0 L1541.7,1087.0 L1543.7,1087.0 L1545.7,1087.0 L1547.7,1087.0 L1549.7,1087.0 L1551.7,1087.0 L1553.7,1087.0 L1555.7,1087.0 L1557.7,1087.0 L1559.7,1087.0 L1561.7,1087.0 L1563.7,1087.0 L1565.7,1087.0 L1567.7,1087.0 L1569.7,1087.0 L1571.7,1087.0 L1573.7,1087.0 L1575.7,1087.0 L1577.7,1087.0 L1579.7,1087.0 L1581.7,1087.0 L1583.7,1087.0 L1585.7,1087.0 L1587.7,1087.0 L1589.7,1087.0 L1591.7,1087.0 L1593.7,1087.0 L1595.7,1087.0 L1597.7,1087.0 L1600.2,1087.0 L1600.2,1087.0 L233.7,1087.0 Z" stroke="none"/>
<path d="M233.7,1034.0 L235.7,1032.6 L237.7,1031.2 L239.7,1029.8 L241.7,1028.3 L243.7,1026.8 L245.7,1025.3 L247.7,1023.8 L249.7,1022.2 L251.7,1020.6 L253.7,1019.0 L255.7,1017.4 L257.6,1015.7 L259.6,1014.0 L261.6,1012.3 L263.6,1010.6 L265.6,1008.8 L267.6,1007.0 L269.6,1005.2 L271.6,1003.3 L273.6,1001.5 L275.6,999.6 L277.6,997.6 L279.6,995.7 L281.6,993.7 L283.6,991.7 L285.6,989.7 L287.6,987.7 L289.6,985.6 L291.6,983.5 L293.6,981.4 L295.6,979.2 L297.6,977.1 L299.6,974.9 L301.6,972.7 L303.6,970.5 L305.6,968.2 L307.6,966.0 L309.6,963.7 L311.6,961.4 L313.6,959.0 L315.6,956.7 L317.6,954.3 L319.6,952.0 L321.6,949.6 L323.6,947.2 L325.6,944.7 L327.6,942.3 L329.6,939.8 L331.6,937.4 L333.6,934.9 L335.6,932.4 L337.6,929.9 L339.6,927.4 L341.6,924.8 L343.6,922.3 L345.6,919.8 L347.6,917.2 L349.6,914.7 L351.6,912.1 L353.6,909.5 L355.6,907.0 L357.6,904.4 L359.6,901.8 L361.6,899.3 L363.6,896.7 L365.6,894.1 L367.6,891.5 L369.6,889.0 L371.6,886.4 L373.6,883.9 L375.6,881.3 L377.6,878.8 L379.6,876.2 L381.6,873.7 L383.6,871.2 L385.6,868.7 L387.6,866.2 L389.6,863.7 L391.6,861.3 L393.6,858.8 L395.6,856.4 L397.6,854.0 L399.6,851.6 L401.6,849.2 L403.6,846.9 L405.6,844.6 L407.6,842.3 L409.6,840.0 L411.6,837.7 L413.6,835.5 L415.6,833.3 L417.6,831.2 L419.6,829.0 L421.6,826.9 L423.6,824.9 L425.6,822.8 L427.6,820.8 L429.6,818.9 L431.6,816.9 L433.6,815.0 L435.6,813.2 L437.6,811.4 L439.6,809.6 L441.6,807.9 L443.6,806.2 L445.6,804.5 L447.6,802.9 L449.6,801.4 L451.6,799.8 L453.6,798.4 L455.6,797.0 L457.6,795.6 L459.6,794.3 L461.6,793.0 L463.6,791.8 L465.6,790.6 L467.6,789.5 L469.6,788.4 L471.6,787.4 L473.6,786.5 L475.6,785.6 L477.6,784.7 L479.6,783.9 L481.6,783.2 L483.6,782.5 L485.6,781.9 L487.6,781.3 L489.6,780.8 L491.6,780.3 L493.6,779.9 L495.6,779.6 L497.6,779.3 L499.6,779.1 L501.6,778.9 L503.6,778.8 L505.6,778.7 L507.6,778.7 L509.6,778.8 L511.6,778.9 L513.6,779.1 L515.6,779.3 L517.6,779.6 L519.6,780.0 L521.6,780.4 L523.6,780.9 L525.6,781.4 L527.6,782.0 L529.6,782.6 L531.6,783.3 L533.6,784.1 L535.6,784.9 L537.6,785.7 L539.6,786.7 L541.6,787.6 L543.6,788.7 L545.6,789.7 L547.6,790.9 L549.6,792.0 L551.6,793.3 L553.6,794.6 L555.6,795.9 L557.6,797.3 L559.6,798.7 L561.6,800.2 L563.6,801.7 L565.6,803.3 L567.6,804.9 L569.6,806.5 L571.6,808.2 L573.6,810.0 L575.6,811.8 L577.6,813.6 L579.6,815.4 L581.6,817.3 L583.6,819.3 L585.6,821.3 L587.6,823.3 L589.6,825.3 L591.6,827.4 L593.6,829.5 L595.6,831.6 L597.6,833.8 L599.6,836.0 L601.6,838.2 L603.6,840.5 L605.6,842.8 L607.6,845.1 L609.6,847.4 L611.6,849.8 L613.6,852.1 L615.6,854.5 L617.6,856.9 L619.6,859.4 L621.6,861.8 L623.6,864.3 L625.6,866.8 L627.6,869.3 L629.6,871.8 L631.6,874.3 L633.6,876.8 L635.6,879.3 L637.6,881.9 L639.6,884.4 L641.6,887.0 L643.6,889.5 L645.6,892.1 L647.6,894.7 L649.6,897.3 L651.6,899.8 L653.6,902.4 L655.6,905.0 L657.6,907.5 L659.6,910.1 L661.6,912.7 L663.6,915.2 L665.6,917.8 L667.6,920.3 L669.6,922.9 L671.6,925.4 L673.6,927.9 L675.6,930.4 L677.6,932.9 L679.6,935.4 L681.6,937.9 L683.6,940.4 L685.6,942.8 L687.6,945.3 L689.6,947.7 L691.6,950.1 L693.6,952.5 L695.6,954.9 L697.6,957.2 L699.6,959.6 L701.6,961.9 L703.6,964.2 L705.6,966.5 L707.6,968.7 L709.6,971.0 L711.6,973.2 L713.6,975.4 L715.6,977.6 L717.6,979.7 L719.6,981.9 L721.6,984.0 L723.6,986.1 L725.6,988.1 L727.6,990.2 L729.6,992.2 L731.6,994.2 L733.6,996.1 L735.6,998.1 L737.6,1000.0 L739.6,1001.9 L741.6,1003.7 L743.6,1005.6 L745.6,1007.4 L747.6,1009.2 L749.6,1011.0 L751.6,1012.7 L753.6,1014.4 L755.6,1016.1 L757.6,1017.7 L759.6,1019.4 L761.6,1021.0 L763.6,1022.6 L765.6,1024.1 L767.6,1025.7 L769.6,1027.2 L771.6,1028.6 L773.6,1030.1 L775.6,1031.5 L777.6,1032.9 L779.6,1034.3 L781.6,1035.6 L783.6,1037.0 L785.6,1038.3 L787.6,1039.5 L789.6,1040.8 L791.6,1042.0 L793.6,1043.2 L795.6,1044.4 L797.6,1045.6 L799.6,1046.7 L801.6,1047.8 L803.6,1048.9 L805.6,1049.9 L807.6,1051.0 L809.6,1052.0 L811.6,1053.0 L813.6,1054.0 L815.6,1054.9 L817.6,1055.8 L819.6,1056.7 L821.6,1057.6 L823.6,1058.5 L825.6,1059.3 L827.6,1060.2 L829.6,1061.0 L831.6,1061.8 L833.6,1062.5 L835.6,1063.3 L837.6,1064.0 L839.6,1064.7 L841.6,1065.4 L843.6,1066.1 L845.6,1066.7 L847.6,1067.4 L849.6,1068.0 L851.6,1068.6 L853.6,1069.2 L855.6,1069.8 L857.6,1070.4 L859.6,1070.9 L861.6,1071.4 L863.6,1071.9 L865.6,1072.4 L867.6,1072.9 L869.6,1073.4 L871.6,1073.9 L873.6,1074.3 L875.6,1074.7 L877.6,1075.2 L879.6,1075.6 L881.6,1076.0 L883.6,1076.4 L885.6,1076.7 L887.6,1077.1 L889.6,1077.5 L891.6,1077.8 L893.6,1078.1 L895.6,1078.4 L897.6,1078.8 L899.6,1079.1 L901.6,1079.3 L903.6,1079.6 L905.6,1079.9 L907.6,1080.2 L909.6,1080.4 L911.6,1080.7 L913.6,1080.9 L915.6,1081.1 L917.6,1081.4 L919.6,1081.6 L921.6,1081.8 L923.6,1082.0 L925.6,1082.2 L927.6,1082.4 L929.6,1082.5 L931.6,1082.7 L933.6,1082.9 L935.6,1083.1 L937.6,1083.2 L939.6,1083.4 L941.6,1083.5 L943.6,1083.7 L945.6,1083.8 L947.6,1083.9 L949.6,1084.0 L951.6,1084.2 L953.6,1084.3 L955.6,1084.4 L957.6,1084.5 L959.6,1084.6 L961.6,1084.7 L963.6,1084.8 L965.6,1084.9 L967.6,1085.0 L969.6,1085.1 L971.6,1085.2 L973.6,1085.2 L975.6,1085.3 L977.6,1085.4 L979.6,1085.5 L981.6,1085.5 L983.6,1085.6 L985.6,1085.7 L987.6,1085.7 L989.6,1085.8 L991.6,1085.8 L993.6,1085.9 L995.6,1085.9 L997.6,1086.0 L999.6,1086.0 L1001.6,1086.1 L1003.6,1086.1 L1005.6,1086.2 L1007.6,1086.2 L1009.6,1086.2 L1011.6,1086.3 L1013.6,1086.3 L1015.6,1086.3 L1017.6,1086.4 L1019.6,1086.4 L1021.6,1086.4 L1023.6,1086.5 L1025.7,1086.5 L1027.7,1086.5 L1029.7,1086.5 L1031.7,1086.5 L1033.7,1086.6 L1035.7,1086.6 L1037.7,1086.6 L1039.7,1086.6 L1041.7,1086.6 L1043.7,1086.7 L1045.7,1086.7 L1047.7,1086.7 L1049.7,1086.7 L1051.7,1086.7 L1053.7,1086.7 L1055.7,1086.8 L1057.7,1086.8 L1059.7,1086.8 L1061.7,1086.8 L1063.7,1086.8 L1065.7,1086.8 L1067.7,1086.8 L1069.7,1086.8 L1071.7,1086.8 L1073.7,1086.8 L1075.7,1086.9 L1077.7,1086.9 L1079.7,1086.9 L1081.7,1086.9 L1083.7,1086.9 L1085.7,1086.9 L1087.7,1086.9 L1089.7,1086.9 L1091.7,1086.9 L1093.7,1086.9 L1095.7,1086.9 L1097.7,1086.9 L1099.7,1086.9 L1101.7,1086.9 L1103.7,1086.9 L1105.7,1086.9 L1107.7,1086.9 L1109.7,1086.9 L1111.7,1086.9 L1113.7,1086.9 L1115.7,1087.0 L1117.7,1087.0 L1119.7,1087.0 L1121.7,1087.0 L1123.7,1087.0 L1125.7,1087.0 L1127.7,1087.0 L1129.7,1087.0 L1131.7,1087.0 L1133.7,1087.0 L1135.7,1087.0 L1137.7,1087.0 L1139.7,1087.0 L1141.7,1087.0 L1143.7,1087.0 L1145.7,1087.0 L1147.7,1087.0 L1149.7,1087.0 L1151.7,1087.0 L1153.7,1087.0 L1155.7,1087.0 L1157.7,1087.0 L1159.7,1087.0 L1161.7,1087.0 L1163.7,1087.0 L1165.7,1087.0 L1167.7,1087.0 L1169.7,1087.0 L1171.7,1087.0 L1173.7,1087.0 L1175.7,1087.0 L1177.7,1087.0 L1179.7,1087.0 L1181.7,1087.0 L1183.7,1087.0 L1185.7,1087.0 L1187.7,1087.0 L1189.7,1087.0 L1191.7,1087.0 L1193.7,1087.0 L1195.7,1087.0 L1197.7,1087.0 L1199.7,1087.0 L1201.7,1087.0 L1203.7,1087.0 L1205.7,1087.0 L1207.7,1087.0 L1209.7,1087.0 L1211.7,1087.0 L1213.7,1087.0 L1215.7,1087.0 L1217.7,1087.0 L1219.7,1087.0 L1221.7,1087.0 L1223.7,1087.0 L1225.7,1087.0 L1227.7,1087.0 L1229.7,1087.0 L1231.7,1087.0 L1233.7,1087.0 L1235.7,1087.0 L1237.7,1087.0 L1239.7,1087.0 L1241.7,1087.0 L1243.7,1087.0 L1245.7,1087.0 L1247.7,1087.0 L1249.7,1087.0 L1251.7,1087.0 L1253.7,1087.0 L1255.7,1087.0 L1257.7,1087.0 L1259.7,1087.0 L1261.7,1087.0 L1263.7,1087.0 L1265.7,1087.0 L1267.7,1087.0 L1269.7,1087.0 L1271.7,1087.0 L1273.7,1087.0 L1275.7,1087.0 L1277.7,1087.0 L1279.7,1087.0 L1281.7,1087.0 L1283.7,1087.0 L1285.7,1087.0 L1287.7,1087.0 L1289.7,1087.0 L1291.7,1087.0 L1293.7,1087.0 L1295.7,1087.0 L1297.7,1087.0 L1299.7,1087.0 L1301.7,1087.0 L1303.7,1087.0 L1305.7,1087.0 L1307.7,1087.0 L1309.7,1087.0 L1311.7,1087.0 L1313.7,1087.0 L1315.7,1087.0 L1317.7,1087.0 L1319.7,1087.0 L1321.7,1087.0 L1323.7,1087.0 L1325.7,1087.0 L1327.7,1087.0 L1329.7,1087.0 L1331.7,1087.0 L1333.7,1087.0 L1335.7,1087.0 L1337.7,1087.0 L1339.7,1087.0 L1341.7,1087.0 L1343.7,1087.0 L1345.7,1087.0 L1347.7,1087.0 L1349.7,1087.0 L1351.7,1087.0 L1353.7,1087.0 L1355.7,1087.0 L1357.7,1087.0 L1359.7,1087.0 L1361.7,1087.0 L1363.7,1087.0 L1365.7,1087.0 L1367.7,1087.0 L1369.7,1087.0 L1371.7,1087.0 L1373.7,1087.0 L1375.7,1087.0 L1377.7,1087.0 L1379.7,1087.0 L1381.7,1087.0 L1383.7,1087.0 L1385.7,1087.0 L1387.7,1087.0 L1389.7,1087.0 L1391.7,1087.0 L1393.7,1087.0 L1395.7,1087.0 L1397.7,1087.0 L1399.7,1087.0 L1401.7,1087.0 L1403.7,1087.0 L1405.7,1087.0 L1407.7,1087.0 L1409.7,1087.0 L1411.7,1087.0 L1413.7,1087.0 L1415.7,1087.0 L1417.7,1087.0 L1419.7,1087.0 L1421.7,1087.0 L1423.7,1087.0 L1425.7,1087.0 L1427.7,1087.0 L1429.7,1087.0 L1431.7,1087.0 L1433.7,1087.0 L1435.7,1087.0 L1437.7,1087.0 L1439.7,1087.0 L1441.7,1087.0 L1443.7,1087.0 L1445.7,1087.0 L1447.7,1087.0 L1449.7,1087.0 L1451.7,1087.0 L1453.7,1087.0 L1455.7,1087.0 L1457.7,1087.0 L1459.7,1087.0 L1461.7,1087.0 L1463.7,1087.0 L1465.7,1087.0 L1467.7,1087.0 L1469.7,1087.0 L1471.7,1087.0 L1473.7,1087.0 L1475.7,1087.0 L1477.7,1087.0 L1479.7,1087.0 L1481.7,1087.0 L1483.7,1087.0 L1485.7,1087.0 L1487.7,1087.0 L1489.7,1087.0 L1491.7,1087.0 L1493.7,1087.0 L1495.7,1087.0 L1497.7,1087.0 L1499.7,1087.0 L1501.7,1087.0 L1503.7,1087.0 L1505.7,1087.0 L1507.7,1087.0 L1509.7,1087.0 L1511.7,1087.0 L1513.7,1087.0 L1515.7,1087.0 L1517.7,1087.0 L1519.7,1087.0 L1521.7,1087.0 L1523.7,1087.0 L1525.7,1087.0 L1527.7,1087.0 L1529.7,1087.0 L1531.7,1087.0 L1533.7,1087.0 L1535.7,1087.0 L1537.7,1087.0 L1539.7,1087.0 L1541.7,1087.0 L1543.7,1087.0 L1545.7,1087.0 L1547.7,1087.0 L1549.7,1087.0 L1551.7,1087.0 L1553.7,1087.0 L1555.7,1087.0 L1557.7,1087.0 L1559.7,1087.0 L1561.7,1087.0 L1563.7,1087.0 L1565.7,1087.0 L1567.7,1087.0 L1569.7,1087.0 L1571.7,1087.0 L1573.7,1087.0 L1575.7,1087.0 L1577.7,1087.0 L1579.7,1087.0 L1581.7,1087.0 L1583.7,1087.0 L1585.7,1087.0 L1587.7,1087.0 L1589.7,1087.0 L1591.7,1087.0 L1593.7,1087.0 L1595.7,1087.0 L1597.7,1087.0 L1600.2,1087.0" fill="none"/>
<path d="M233.7,1087.0 L235.7,1087.0 L237.7,1087.0 L239.7,1087.0 L241.7,1087.0 L243.7,1087.0 L245.7,1087.0 L247.7,1086.9 L249.7,1086.9 L251.7,1086.9 L253.7,1086.9 L255.7,1086.9 L257.6,1086.9 L259.6,1086.9 L261.6,1086.9 L263.6,1086.9 L265.6,1086.9 L267.6,1086.9 L269.6,1086.9 L271.6,1086.9 L273.6,1086.9 L275.6,1086.9 L277.6,1086.8 L279.6,1086.8 L281.6,1086.8 L283.6,1086.8 L285.6,1086.8 L287.6,1086.8 L289.6,1086.8 L291.6,1086.8 L293.6,1086.7 L295.6,1086.7 L297.6,1086.7 L299.6,1086.7 L301.6,1086.7 L303.6,1086.6 L305.6,1086.6 L307.6,1086.6 L309.6,1086.6 L311.6,1086.5 L313.6,1086.5 L315.6,1086.5 L317.6,1086.4 L319.6,1086.4 L321.6,1086.4 L323.6,1086.3 L325.6,1086.3 L327.6,1086.2 L329.6,1086.2 L331.6,1086.1 L333.6,1086.1 L335.6,1086.0 L337.6,1085.9 L339.6,1085.9 L341.6,1085.8 L343.6,1085.7 L345.6,1085.7 L347.6,1085.6 L349.6,1085.5 L351.6,1085.4 L353.6,1085.3 L355.6,1085.2 L357.6,1085.1 L359.6,1085.0 L361.6,1084.9 L363.6,1084.8 L365.6,1084.6 L367.6,1084.5 L369.6,1084.4 L371.6,1084.2 L373.6,1084.1 L375.6,1083.9 L377.6,1083.7 L379.6,1083.5 L381.6,1083.3 L383.6,1083.1 L385.6,1082.9 L387.6,1082.7 L389.6,1082.5 L391.6,1082.2 L393.6,1082.0 L395.6,1081.7 L397.6,1081.4 L399.6,1081.2 L401.6,1080.9 L403.6,1080.5 L405.6,1080.2 L407.6,1079.9 L409.6,1079.5 L411.6,1079.1 L413.6,1078.7 L415.6,1078.3 L417.6,1077.9 L419.6,1077.4 L421.6,1077.0 L423.6,1076.5 L425.6,1076.0 L427.6,1075.4 L429.6,1074.9 L431.6,1074.3 L433.6,1073.7 L435.6,1073.1 L437.6,1072.5 L439.6,1071.8 L441.6,1071.1 L443.6,1070.4 L445.6,1069.6 L447.6,1068.8 L449.6,1068.0 L451.6,1067.2 L453.6,1066.3 L455.6,1065.4 L457.6,1064.5 L459.6,1063.5 L461.6,1062.5 L463.6,1061.5 L465.6,1060.4 L467.6,1059.3 L469.6,1058.1 L471.6,1056.9 L473.6,1055.7 L475.6,1054.5 L477.6,1053.1 L479.6,1051.8 L481.6,1050.4 L483.6,1049.0 L485.6,1047.5 L487.6,1045.9 L489.6,1044.4 L491.6,1042.7 L493.6,1041.1 L495.6,1039.3 L497.6,1037.6 L499.6,1035.7 L501.6,1033.9 L503.6,1031.9 L505.6,1030.0 L507.6,1027.9 L509.6,1025.8 L511.6,1023.7 L513.6,1021.5 L515.6,1019.2 L517.6,1016.9 L519.6,1014.6 L521.6,1012.1 L523.6,1009.6 L525.6,1007.1 L527.6,1004.5 L529.6,1001.8 L531.6,999.1 L533.6,996.3 L535.6,993.5 L537.6,990.5 L539.6,987.6 L541.6,984.5 L543.6,981.5 L545.6,978.3 L547.6,975.1 L549.6,971.8 L551.6,968.5 L553.6,965.1 L555.6,961.6 L557.6,958.1 L559.6,954.5 L561.6,950.9 L563.6,947.2 L565.6,943.4 L567.6,939.6 L569.6,935.7 L571.6,931.8 L573.6,927.8 L575.6,923.8 L577.6,919.7 L579.6,915.5 L581.6,911.3 L583.6,907.1 L585.6,902.8 L587.6,898.5 L589.6,894.1 L591.6,889.7 L593.6,885.2 L595.6,880.7 L597.6,876.1 L599.6,871.5 L601.6,866.9 L603.6,862.3 L605.6,857.6 L607.6,852.9 L609.6,848.1 L611.6,843.4 L613.6,838.6 L615.6,833.8 L617.6,828.9 L619.6,824.1 L621.6,819.3 L623.6,814.4 L625.6,809.5 L627.6,804.7 L629.6,799.8 L631.6,794.9 L633.6,790.1 L635.6,785.2 L637.6,780.4 L639.6,775.5 L641.6,770.7 L643.6,765.9 L645.6,761.1 L647.6,756.4 L649.6,751.7 L651.6,747.0 L653.6,742.4 L655.6,737.8 L657.6,733.2 L659.6,728.7 L661.6,724.2 L663.6,719.8 L665.6,715.4 L667.6,711.1 L669.6,706.9 L671.6,702.7 L673.6,698.6 L675.6,694.5 L677.6,690.6 L679.6,686.7 L681.6,682.9 L683.6,679.2 L685.6,675.5 L687.6,672.0 L689.6,668.5 L691.6,665.2 L693.6,661.9 L695.6,658.8 L697.6,655.7 L699.6,652.8 L701.6,649.9 L703.6,647.2 L705.6,644.6 L707.6,642.1 L709.6,639.7 L711.6,637.4 L713.6,635.3 L715.6,633.3 L717.6,631.4 L719.6,629.6 L721.6,628.0 L723.6,626.5 L725.6,625.1 L727.6,623.8 L729.6,622.7 L731.6,621.7 L733.6,620.9 L735.6,620.2 L737.6,619.6 L739.6,619.2 L741.6,618.9 L743.6,618.7 L745.6,618.7 L747.6,618.8 L749.6,619.1 L751.6,619.5 L753.6,620.0 L755.6,620.7 L757.6,621.5 L759.6,622.4 L761.6,623.5 L763.6,624.7 L765.6,626.0 L767.6,627.5 L769.6,629.1 L771.6,630.8 L773.6,632.6 L775.6,634.6 L777.6,636.7 L779.6,638.9 L781.6,641.3 L783.6,643.7 L785.6,646.3 L787.6,649.0 L789.6,651.8 L791.6,654.7 L793.6,657.8 L795.6,660.9 L797.6,664.1 L799.6,667.4 L801.6,670.8 L803.6,674.4 L805.6,678.0 L807.6,681.7 L809.6,685.4 L811.6,689.3 L813.6,693.2 L815.6,697.2 L817.6,701.3 L819.6,705.5 L821.6,709.7 L823.6,714.0 L825.6,718.3 L827.6,722.7 L829.6,727.2 L831.6,731.7 L833.6,736.2 L835.6,740.8 L837.6,745.5 L839.6,750.1 L841.6,754.8 L843.6,759.6 L845.6,764.3 L847.6,769.1 L849.6,773.9 L851.6,778.8 L853.6,783.6 L855.6,788.5 L857.6,793.3 L859.6,798.2 L861.6,803.1 L863.6,807.9 L865.6,812.8 L867.6,817.7 L869.6,822.5 L871.6,827.4 L873.6,832.2 L875.6,837.0 L877.6,841.8 L879.6,846.6 L881.6,851.3 L883.6,856.0 L885.6,860.7 L887.6,865.4 L889.6,870.0 L891.6,874.6 L893.6,879.2 L895.6,883.7 L897.6,888.2 L899.6,892.6 L901.6,897.0 L903.6,901.4 L905.6,905.7 L907.6,909.9 L909.6,914.2 L911.6,918.3 L913.6,922.4 L915.6,926.5 L917.6,930.5 L919.6,934.4 L921.6,938.3 L923.6,942.2 L925.6,945.9 L927.6,949.6 L929.6,953.3 L931.6,956.9 L933.6,960.4 L935.6,963.9 L937.6,967.3 L939.6,970.7 L941.6,974.0 L943.6,977.2 L945.6,980.4 L947.6,983.5 L949.6,986.6 L951.6,989.6 L953.6,992.5 L955.6,995.4 L957.6,998.2 L959.6,1000.9 L961.6,1003.6 L963.6,1006.2 L965.6,1008.8 L967.6,1011.3 L969.6,1013.8 L971.6,1016.2 L973.6,1018.5 L975.6,1020.8 L977.6,1023.0 L979.6,1025.1 L981.6,1027.2 L983.6,1029.3 L985.6,1031.3 L987.6,1033.2 L989.6,1035.1 L991.6,1037.0 L993.6,1038.8 L995.6,1040.5 L997.6,1042.2 L999.6,1043.8 L1001.6,1045.4 L1003.6,1047.0 L1005.6,1048.5 L1007.6,1049.9 L1009.6,1051.3 L1011.6,1052.7 L1013.6,1054.0 L1015.6,1055.3 L1017.6,1056.5 L1019.6,1057.7 L1021.6,1058.9 L1023.6,1060.0 L1025.7,1061.1 L1027.7,1062.2 L1029.7,1063.2 L1031.7,1064.2 L1033.7,1065.1 L1035.7,1066.0 L1037.7,1066.9 L1039.7,1067.8 L1041.7,1068.6 L1043.7,1069.4 L1045.7,1070.1 L1047.7,1070.9 L1049.7,1071.6 L1051.7,1072.2 L1053.7,1072.9 L1055.7,1073.5 L1057.7,1074.1 L1059.7,1074.7 L1061.7,1075.3 L1063.7,1075.8 L1065.7,1076.3 L1067.7,1076.8 L1069.7,1077.3 L1071.7,1077.7 L1073.7,1078.2 L1075.7,1078.6 L1077.7,1079.0 L1079.7,1079.4 L1081.7,1079.7 L1083.7,1080.1 L1085.7,1080.4 L1087.7,1080.7 L1089.7,1081.1 L1091.7,1081.4 L1093.7,1081.6 L1095.7,1081.9 L1097.7,1082.2 L1099.7,1082.4 L1101.7,1082.6 L1103.7,1082.9 L1105.7,1083.1 L1107.7,1083.3 L1109.7,1083.5 L1111.7,1083.7 L1113.7,1083.8 L1115.7,1084.0 L1117.7,1084.2 L1119.7,1084.3 L1121.7,1084.5 L1123.7,1084.6 L1125.7,1084.7 L1127.7,1084.8 L1129.7,1085.0 L1131.7,1085.1 L1133.7,1085.2 L1135.7,1085.3 L1137.7,1085.4 L1139.7,1085.5 L1141.7,1085.6 L1143.7,1085.6 L1145.7,1085.7 L1147.7,1085.8 L1149.7,1085.9 L1151.7,1085.9 L1153.7,1086.0 L1155.7,1086.0 L1157.7,1086.1 L1159.7,1086.2 L1161.7,1086.2 L1163.7,1086.3 L1165.7,1086.3 L1167.7,1086.3 L1169.7,1086.4 L1171.7,1086.4 L1173.7,1086.5 L1175.7,1086.5 L1177.7,1086.5 L1179.7,1086.5 L1181.7,1086.6 L1183.7,1086.6 L1185.7,1086.6 L1187.7,1086.7 L1189.7,1086.7 L1191.7,1086.7 L1193.7,1086.7 L1195.7,1086.7 L1197.7,1086.7 L1199.7,1086.8 L1201.7,1086.8 L1203.7,1086.8 L1205.7,1086.8 L1207.7,1086.8 L1209.7,1086.8 L1211.7,1086.8 L1213.7,1086.9 L1215.7,1086.9 L1217.7,1086.9 L1219.7,1086.9 L1221.7,1086.9 L1223.7,1086.9 L1225.7,1086.9 L1227.7,1086.9 L1229.7,1086.9 L1231.7,1086.9 L1233.7,1086.9 L1235.7,1086.9 L1237.7,1086.9 L1239.7,1086.9 L1241.7,1086.9 L1243.7,1086.9 L1245.7,1087.0 L1247.7,1087.0 L1249.7,1087.0 L1251.7,1087.0 L1253.7,1087.0 L1255.7,1087.0 L1257.7,1087.0 L1259.7,1087.0 L1261.7,1087.0 L1263.7,1087.0 L1265.7,1087.0 L1267.7,1087.0 L1269.7,1087.0 L1271.7,1087.0 L1273.7,1087.0 L1275.7,1087.0 L1277.7,1087.0 L1279.7,1087.0 L1281.7,1087.0 L1283.7,1087.0 L1285.7,1087.0 L1287.7,1087.0 L1289.7,1087.0 L1291.7,1087.0 L1293.7,1087.0 L1295.7,1087.0 L1297.7,1087.0 L1299.7,1087.0 L1301.7,1087.0 L1303.7,1087.0 L1305.7,1087.0 L1307.7,1087.0 L1309.7,1087.0 L1311.7,1087.0 L1313.7,1087.0 L1315.7,1087.0 L1317.7,1087.0 L1319.7,1087.0 L1321.7,1087.0 L1323.7,1087.0 L1325.7,1087.0 L1327.7,1087.0 L1329.7,1087.0 L1331.7,1087.0 L1333.7,1087.0 L1335.7,1087.0 L1337.7,1087.0 L1339.7,1087.0 L1341.7,1087.0 L1343.7,1087.0 L1345.7,1087.0 L1347.7,1087.0 L1349.7,1087.0 L1351.7,1087.0 L1353.7,1087.0 L1355.7,1087.0 L1357.7,1087.0 L1359.7,1087.0 L1361.7,1087.0 L1363.7,1087.0 L1365.7,1087.0 L1367.7,1087.0 L1369.7,1087.0 L1371.7,1087.0 L1373.7,1087.0 L1375.7,1087.0 L1377.7,1087.0 L1379.7,1087.0 L1381.7,1087.0 L1383.7,1087.0 L1385.7,1087.0 L1387.7,1087.0 L1389.7,1087.0 L1391.7,1087.0 L1393.7,1087.0 L1395.7,1087.0 L1397.7,1087.0 L1399.7,1087.0 L1401.7,1087.0 L1403.7,1087.0 L1405.7,1087.0 L1407.7,1087.0 L1409.7,1087.0 L1411.7,1087.0 L1413.7,1087.0 L1415.7,1087.0 L1417.7,1087.0 L1419.7,1087.0 L1421.7,1087.0 L1423.7,1087.0 L1425.7,1087.0 L1427.7,1087.0 L1429.7,1087.0 L1431.7,1087.0 L1433.7,1087.0 L1435.7,1087.0 L1437.7,1087.0 L1439.7,1087.0 L1441.7,1087.0 L1443.7,1087.0 L1445.7,1087.0 L1447.7,1087.0 L1449.7,1087.0 L1451.7,1087.0 L1453.7,1087.0 L1455.7,1087.0 L1457.7,1087.0 L1459.7,1087.0 L1461.7,1087.0 L1463.7,1087.0 L1465.7,1087.0 L1467.7,1087.0 L1469.7,1087.0 L1471.7,1087.0 L1473.7,1087.0 L1475.7,1087.0 L1477.7,1087.0 L1479.7,1087.0 L1481.7,1087.0 L1483.7,1087.0 L1485.7,1087.0 L1487.7,1087.0 L1489.7,1087.0 L1491.7,1087.0 L1493.7,1087.0 L1495.7,1087.0 L1497.7,1087.0 L1499.7,1087.0 L1501.7,1087.0 L1503.7,1087.0 L1505.7,1087.0 L1507.7,1087.0 L1509.7,1087.0 L1511.7,1087.0 L1513.7,1087.0 L1515.7,1087.0 L1517.7,1087.0 L1519.7,1087.0 L1521.7,1087.0 L1523.7,1087.0 L1525.7,1087.0 L1527.7,1087.0 L1529.7,1087.0 L1531.7,1087.0 L1533.7,1087.0 L1535.7,1087.0 L1537.7,1087.0 L1539.7,1087.0 L1541.7,1087.0 L1543.7,1087.0 L1545.7,1087.0 L1547.7,1087.0 L1549.7,1087.0 L1551.7,1087.0 L1553.7,1087.0 L1555.7,1087.0 L1557.7,1087.0 L1559.7,1087.0 L1561.7,1087.0 L1563.7,1087.0 L1565.7,1087.0 L1567.7,1087.0 L1569.7,1087.0 L1571.7,1087.0 L1573.7,1087.0 L1575.7,1087.0 L1577.7,1087.0 L1579.7,1087.0 L1581.7,1087.0 L1583.7,1087.0 L1585.7,1087.0 L1587.7,1087.0 L1589.7,1087.0 L1591.7,1087.0 L1593.7,1087.0 L1595.7,1087.0 L1597.7,1087.0 L1600.2,1087.0 L1600.2,1087.0 L233.7,1087.0 Z" stroke="none"/>
<path d="M233.7,1087.0 L235.7,1087.0 L237.7,1087.0 L239.7,1087.0 L241.7,1087.0 L243.7,1087.0 L245.7,1087.0 L247.7,1086.9 L249.7,1086.9 L251.7,1086.9 L253.7,1086.9 L255.7,1086.9 L257.6,1086.9 L259.6,1086.9 L261.6,1086.9 L263.6,1086.9 L265.6,1086.9 L267.6,1086.9 L269.6,1086.9 L271.6,1086.9 L273.6,1086.9 L275.6,1086.9 L277.6,1086.8 L279.6,1086.8 L281.6,1086.8 L283.6,1086.8 L285.6,1086.8 L287.6,1086.8 L289.6,1086.8 L291.6,1086.8 L293.6,1086.7 L295.6,1086.7 L297.6,1086.7 L299.6,1086.7 L301.6,1086.7 L303.6,1086.6 L305.6,1086.6 L307.6,1086.6 L309.6,1086.6 L311.6,1086.5 L313.6,1086.5 L315.6,1086.5 L317.6,1086.4 L319.6,1086.4 L321.6,1086.4 L323.6,1086.3 L325.6,1086.3 L327.6,1086.2 L329.6,1086.2 L331.6,1086.1 L333.6,1086.1 L335.6,1086.0 L337.6,1085.9 L339.6,1085.9 L341.6,1085.8 L343.6,1085.7 L345.6,1085.7 L347.6,1085.6 L349.6,1085.5 L351.6,1085.4 L353.6,1085.3 L355.6,1085.2 L357.6,1085.1 L359.6,1085.0 L361.6,1084.9 L363.6,1084.8 L365.6,1084.6 L367.6,1084.5 L369.6,1084.4 L371.6,1084.2 L373.6,1084.1 L375.6,1083.9 L377.6,1083.7 L379.6,1083.5 L381.6,1083.3 L383.6,1083.1 L385.6,1082.9 L387.6,1082.7 L389.6,1082.5 L391.6,1082.2 L393.6,1082.0 L395.6,1081.7 L397.6,1081.4 L399.6,1081.2 L401.6,1080.9 L403.6,1080.5 L405.6,1080.2 L407.6,1079.9 L409.6,1079.5 L411.6,1079.1 L413.6,1078.7 L415.6,1078.3 L417.6,1077.9 L419.6,1077.4 L421.6,1077.0 L423.6,1076.5 L425.6,1076.0 L427.6,1075.4 L429.6,1074.9 L431.6,1074.3 L433.6,1073.7 L435.6,1073.1 L437.6,1072.5 L439.6,1071.8 L441.6,1071.1 L443.6,1070.4 L445.6,1069.6 L447.6,1068.8 L449.6,1068.0 L451.6,1067.2 L453.6,1066.3 L455.6,1065.4 L457.6,1064.5 L459.6,1063.5 L461.6,1062.5 L463.6,1061.5 L465.6,1060.4 L467.6,1059.3 L469.6,1058.1 L471.6,1056.9 L473.6,1055.7 L475.6,1054.5 L477.6,1053.1 L479.6,1051.8 L481.6,1050.4 L483.6,1049.0 L485.6,1047.5 L487.6,1045.9 L489.6,1044.4 L491.6,1042.7 L493.6,1041.1 L495.6,1039.3 L497.6,1037.6 L499.6,1035.7 L501.6,1033.9 L503.6,1031.9 L505.6,1030.0 L507.6,1027.9 L509.6,1025.8 L511.6,1023.7 L513.6,1021.5 L515.6,1019.2 L517.6,1016.9 L519.6,1014.6 L521.6,1012.1 L523.6,1009.6 L525.6,1007.1 L527.6,1004.5 L529.6,1001.8 L531.6,999.1 L533.6,996.3 L535.6,993.5 L537.6,990.5 L539.6,987.6 L541.6,984.5 L543.6,981.5 L545.6,978.3 L547.6,975.1 L549.6,971.8 L551.6,968.5 L553.6,965.1 L555.6,961.6 L557.6,958.1 L559.6,954.5 L561.6,950.9 L563.6,947.2 L565.6,943.4 L567.6,939.6 L569.6,935.7 L571.6,931.8 L573.6,927.8 L575.6,923.8 L577.6,919.7 L579.6,915.5 L581.6,911.3 L583.6,907.1 L585.6,902.8 L587.6,898.5 L589.6,894.1 L591.6,889.7 L593.6,885.2 L595.6,880.7 L597.6,876.1 L599.6,871.5 L601.6,866.9 L603.6,862.3 L605.6,857.6 L607.6,852.9 L609.6,848.1 L611.6,843.4 L613.6,838.6 L615.6,833.8 L617.6,828.9 L619.6,824.1 L621.6,819.3 L623.6,814.4 L625.6,809.5 L627.6,804.7 L629.6,799.8 L631.6,794.9 L633.6,790.1 L635.6,785.2 L637.6,780.4 L639.6,775.5 L641.6,770.7 L643.6,765.9 L645.6,761.1 L647.6,756.4 L649.6,751.7 L651.6,747.0 L653.6,742.4 L655.6,737.8 L657.6,733.2 L659.6,728.7 L661.6,724.2 L663.6,719.8 L665.6,715.4 L667.6,711.1 L669.6,706.9 L671.6,702.7 L673.6,698.6 L675.6,694.5 L677.6,690.6 L679.6,686.7 L681.6,682.9 L683.6,679.2 L685.6,675.5 L687.6,672.0 L689.6,668.5 L691.6,665.2 L693.6,661.9 L695.6,658.8 L697.6,655.7 L699.6,652.8 L701.6,649.9 L703.6,647.2 L705.6,644.6 L707.6,642.1 L709.6,639.7 L711.6,637.4 L713.6,635.3 L715.6,633.3 L717.6,631.4 L719.6,629.6 L721.6,628.0 L723.6,626.5 L725.6,625.1 L727.6,623.8 L729.6,622.7 L731.6,621.7 L733.6,620.9 L735.6,620.2 L737.6,619.6 L739.6,619.2 L741.6,618.9 L743.6,618.7 L745.6,618.7 L747.6,618.8 L749.6,619.1 L751.6,619.5 L753.6,620.0 L755.6,620.7 L757.6,621.5 L759.6,622.4 L761.6,623.5 L763.6,624.7 L765.6,626.0 L767.6,627.5 L769.6,629.1 L771.6,630.8 L773.6,632.6 L775.6,634.6 L777.6,636.7 L779.6,638.9 L781.6,641.3 L783.6,643.7 L785.6,646.3 L787.6,649.0 L789.6,651.8 L791.6,654.7 L793.6,657.8 L795.6,660.9 L797.6,664.1 L799.6,667.4 L801.6,670.8 L803.6,674.4 L805.6,678.0 L807.6,681.7 L809.6,685.4 L811.6,689.3 L813.6,693.2 L815.6,697.2 L817.6,701.3 L819.6,705.5 L821.6,709.7 L823.6,714.0 L825.6,718.3 L827.6,722.7 L829.6,727.2 L831.6,731.7 L833.6,736.2 L835.6,740.8 L837.6,745.5 L839.6,750.1 L841.6,754.8 L843.6,759.6 L845.6,764.3 L847.6,769.1 L849.6,773.9 L851.6,778.8 L853.6,783.6 L855.6,788.5 L857.6,793.3 L859.6,798.2 L861.6,803.1 L863.6,807.9 L865.6,812.8 L867.6,817.7 L869.6,822.5 L871.6,827.4 L873.6,832.2 L875.6,837.0 L877.6,841.8 L879.6,846.6 L881.6,851.3 L883.6,856.0 L885.6,860.7 L887.6,865.4 L889.6,870.0 L891.6,874.6 L893.6,879.2 L895.6,883.7 L897.6,888.2 L899.6,892.6 L901.6,897.0 L903.6,901.4 L905.6,905.7 L907.6,909.9 L909.6,914.2 L911.6,918.3 L913.6,922.4 L915.6,926.5 L917.6,930.5 L919.6,934.4 L921.6,938.3 L923.6,942.2 L925.6,945.9 L927.6,949.6 L929.6,953.3 L931.6,956.9 L933.6,960.4 L935.6,963.9 L937.6,967.3 L939.6,970.7 L941.6,974.0 L943.6,977.2 L945.6,980.4 L947.6,983.5 L949.6,986.6 L951.6,989.6 L953.6,992.5 L955.6,995.4 L957.6,998.2 L959.6,1000.9 L961.6,1003.6 L963.6,1006.2 L965.6,1008.8 L967.6,1011.3 L969.6,1013.8 L971.6,1016.2 L973.6,1018.5 L975.6,1020.8 L977.6,1023.0 L979.6,1025.1 L981.6,1027.2 L983.6,1029.3 L985.6,1031.3 L987.6,1033.2 L989.6,1035.1 L991.6,1037.0 L993.6,1038.8 L995.6,1040.5 L997.6,1042.2 L999.6,1043.8 L1001.6,1045.4 L1003.6,1047.0 L1005.6,1048.5 L1007.6,1049.9 L1009.6,1051.3 L1011.6,1052.7 L1013.6,1054.0 L1015.6,1055.3 L1017.6,1056.5 L1019.6,1057.7 L1021.6,1058.9 L1023.6,1060.0 L1025.7,1061.1 L1027.7,1062.2 L1029.7,1063.2 L1031.7,1064.2 L1033.7,1065.1 L1035.7,1066.0 L1037.7,1066.9 L1039.7,1067.8 L1041.7,1068.6 L1043.7,1069.4 L1045.7,1070.1 L1047.7,1070.9 L1049.7,1071.6 L1051.7,1072.2 L1053.7,1072.9 L1055.7,1073.5 L1057.7,1074.1 L1059.7,1074.7 L1061.7,1075.3 L1063.7,1075.8 L1065.7,1076.3 L1067.7,1076.8 L1069.7,1077.3 L1071.7,1077.7 L1073.7,1078.2 L1075.7,1078.6 L1077.7,1079.0 L1079.7,1079.4 L1081.7,1079.7 L1083.7,1080.1 L1085.7,1080.4 L1087.7,1080.7 L1089.7,1081.1 L1091.7,1081.4 L1093.7,1081.6 L1095.7,1081.9 L1097.7,1082.2 L1099.7,1082.4 L1101.7,1082.6 L1103.7,1082.9 L1105.7,1083.1 L1107.7,1083.3 L1109.7,1083.5 L1111.7,1083.7 L1113.7,1083.8 L1115.7,1084.0 L1117.7,1084.2 L1119.7,1084.3 L1121.7,1084.5 L1123.7,1084.6 L1125.7,1084.7 L1127.7,1084.8 L1129.7,1085.0 L1131.7,1085.1 L1133.7,1085.2 L1135.7,1085.3 L1137.7,1085.4 L1139.7,1085.5 L1141.7,1085.6 L1143.7,1085.6 L1145.7,1085.7 L1147.7,1085.8 L1149.7,1085.9 L1151.7,1085.9 L1153.7,1086.0 L1155.7,1086.0 L1157.7,1086.1 L1159.7,1086.2 L1161.7,1086.2 L1163.7,1086.3 L1165.7,1086.3 L1167.7,1086.3 L1169.7,1086.4 L1171.7,1086.4 L1173.7,1086.5 L1175.7,1086.5 L1177.7,1086.5 L1179.7,1086.5 L1181.7,1086.6 L1183.7,1086.6 L1185.7,1086.6 L1187.7,1086.7 L1189.7,1086.7 L1191.7,1086.7 L1193.7,1086.7 L1195.7,1086.7 L1197.7,1086.7 L1199.7,1086.8 L1201.7,1086.8 L1203.7,1086.8 L1205.7,1086.8 L1207.7,1086.8 L1209.7,1086.8 L1211.7,1086.8 L1213.7,1086.9 L1215.7,1086.9 L1217.7,1086.9 L1219.7,1086.9 L1221.7,1086.9 L1223.7,1086.9 L1225.7,1086.9 L1227.7,1086.9 L1229.7,1086.9 L1231.7,1086.9 L1233.7,1086.9 L1235.7,1086.9 L1237.7,1086.9 L1239.7,1086.9 L1241.7,1086.9 L1243.7,1086.9 L1245.7,1087.0 L1247.7,1087.0 L1249.7,1087.0 L1251.7,1087.0 L1253.7,1087.0 L1255.7,1087.0 L1257.7,1087.0 L1259.7,1087.0 L1261.7,1087.0 L1263.7,1087.0 L1265.7,1087.0 L1267.7,1087.0 L1269.7,1087.0 L1271.7,1087.0 L1273.7,1087.0 L1275.7,1087.0 L1277.7,1087.0 L1279.7,1087.0 L1281.7,1087.0 L1283.7,1087.0 L1285.7,1087.0 L1287.7,1087.0 L1289.7,1087.0 L1291.7,1087.0 L1293.7,1087.0 L1295.7,1087.0 L1297.7,1087.0 L1299.7,1087.0 L1301.7,1087.0 L1303.7,1087.0 L1305.7,1087.0 L1307.7,1087.0 L1309.7,1087.0 L1311.7,1087.0 L1313.7,1087.0 L1315.7,1087.0 L1317.7,1087.0 L1319.7,1087.0 L1321.7,1087.0 L1323.7,1087.0 L1325.7,1087.0 L1327.7,1087.0 L1329.7,1087.0 L1331.7,1087.0 L1333.7,1087.0 L1335.7,1087.0 L1337.7,1087.0 L1339.7,1087.0 L1341.7,1087.0 L1343.7,1087.0 L1345.7,1087.0 L1347.7,1087.0 L1349.7,1087.0 L1351.7,1087.0 L1353.7,1087.0 L1355.7,1087.0 L1357.7,1087.0 L1359.7,1087.0 L1361.7,1087.0 L1363.7,1087.0 L1365.7,1087.0 L1367.7,1087.0 L1369.7,1087.0 L1371.7,1087.0 L1373.7,1087.0 L1375.7,1087.0 L1377.7,1087.0 L1379.7,1087.0 L1381.7,1087.0 L1383.7,1087.0 L1385.7,1087.0 L1387.7,1087.0 L1389.7,1087.0 L1391.7,1087.0 L1393.7,1087.0 L1395.7,1087.0 L1397.7,1087.0 L1399.7,1087.0 L1401.7,1087.0 L1403.7,1087.0 L1405.7,1087.0 L1407.7,1087.0 L1409.7,1087.0 L1411.7,1087.0 L1413.7,1087.0 L1415.7,1087.0 L1417.7,1087.0 L1419.7,1087.0 L1421.7,1087.0 L1423.7,1087.0 L1425.7,1087.0 L1427.7,1087.0 L1429.7,1087.0 L1431.7,1087.0 L1433.7,1087.0 L1435.7,1087.0 L1437.7,1087.0 L1439.7,1087.0 L1441.7,1087.0 L1443.7,1087.0 L1445.7,1087.0 L1447.7,1087.0 L1449.7,1087.0 L1451.7,1087.0 L1453.7,1087.0 L1455.7,1087.0 L1457.7,1087.0 L1459.7,1087.0 L1461.7,1087.0 L1463.7,1087.0 L1465.7,1087.0 L1467.7,1087.0 L1469.7,1087.0 L1471.7,1087.0 L1473.7,1087.0 L1475.7,1087.0 L1477.7,1087.0 L1479.7,1087.0 L1481.7,1087.0 L1483.7,1087.0 L1485.7,1087.0 L1487.7,1087.0 L1489.7,1087.0 L1491.7,1087.0 L1493.7,1087.0 L1495.7,1087.0 L1497.7,1087.0 L1499.7,1087.0 L1501.7,1087.0 L1503.7,1087.0 L1505.7,1087.0 L1507.7,1087.0 L1509.7,1087.0 L1511.7,1087.0 L1513.7,1087.0 L1515.7,1087.0 L1517.7,1087.0 L1519.7,1087.0 L1521.7,1087.0 L1523.7,1087.0 L1525.7,1087.0 L1527.7,1087.0 L1529.7,1087.0 L1531.7,1087.0 L1533.7,1087.0 L1535.7,1087.0 L1537.7,1087.0 L1539.7,1087.0 L1541.7,1087.0 L1543.7,1087.0 L1545.7,1087.0 L1547.7,1087.0 L1549.7,1087.0 L1551.7,1087.0 L1553.7,1087.0 L1555.7,1087.0 L1557.7,1087.0 L1559.7,1087.0 L1561.7,1087.0 L1563.7,1087.0 L1565.7,1087.0 L1567.7,1087.0 L1569.7,1087.0 L1571.7,1087.0 L1573.7,1087.0 L1575.7,1087.0 L1577.7,1087.0 L1579.7,1087.0 L1581.7,1087.0 L1583.7,1087.0 L1585.7,1087.0 L1587.7,1087.0 L1589.7,1087.0 L1591.7,1087.0 L1593.7,1087.0 L1595.7,1087.0 L1597.7,1087.0 L1600.2,1087.0" fill="none"/>
<path d="M233.7,1086.3 L235.7,1086.3 L237.7,1086.3 L239.7,1086.3 L241.7,1086.2 L243.7,1086.2 L245.7,1086.2 L247.7,1086.1 L249.7,1086.1 L251.7,1086.1 L253.7,1086.1 L255.7,1086.0 L257.6,1086.0 L259.6,1086.0 L261.6,1085.9 L263.6,1085.9 L265.6,1085.9 L267.6,1085.8 L269.6,1085.8 L271.6,1085.7 L273.6,1085.7 L275.6,1085.7 L277.6,1085.6 L279.6,1085.6 L281.6,1085.5 L283.6,1085.5 L285.6,1085.4 L287.6,1085.4 L289.6,1085.3 L291.6,1085.3 L293.6,1085.2 L295.6,1085.2 L297.6,1085.1 L299.6,1085.1 L301.6,1085.0 L303.6,1084.9 L305.6,1084.9 L307.6,1084.8 L309.6,1084.8 L311.6,1084.7 L313.6,1084.6 L315.6,1084.5 L317.6,1084.5 L319.6,1084.4 L321.6,1084.3 L323.6,1084.2 L325.6,1084.2 L327.6,1084.1 L329.6,1084.0 L331.6,1083.9 L333.6,1083.8 L335.6,1083.7 L337.6,1083.6 L339.6,1083.5 L341.6,1083.4 L343.6,1083.3 L345.6,1083.2 L347.6,1083.1 L349.6,1083.0 L351.6,1082.9 L353.6,1082.8 L355.6,1082.7 L357.6,1082.5 L359.6,1082.4 L361.6,1082.3 L363.6,1082.2 L365.6,1082.0 L367.6,1081.9 L369.6,1081.8 L371.6,1081.6 L373.6,1081.5 L375.6,1081.3 L377.6,1081.2 L379.6,1081.0 L381.6,1080.9 L383.6,1080.7 L385.6,1080.5 L387.6,1080.4 L389.6,1080.2 L391.6,1080.0 L393.6,1079.8 L395.6,1079.6 L397.6,1079.4 L399.6,1079.3 L401.6,1079.1 L403.6,1078.9 L405.6,1078.6 L407.6,1078.4 L409.6,1078.2 L411.6,1078.0 L413.6,1077.8 L415.6,1077.5 L417.6,1077.3 L419.6,1077.1 L421.6,1076.8 L423.6,1076.6 L425.6,1076.3 L427.6,1076.1 L429.6,1075.8 L431.6,1075.5 L433.6,1075.3 L435.6,1075.0 L437.6,1074.7 L439.6,1074.4 L441.6,1074.1 L443.6,1073.8 L445.6,1073.5 L447.6,1073.2 L449.6,1072.9 L451.6,1072.5 L453.6,1072.2 L455.6,1071.9 L457.6,1071.5 L459.6,1071.2 L461.6,1070.8 L463.6,1070.4 L465.6,1070.1 L467.6,1069.7 L469.6,1069.3 L471.6,1068.9 L473.6,1068.5 L475.6,1068.1 L477.6,1067.7 L479.6,1067.3 L481.6,1066.9 L483.6,1066.4 L485.6,1066.0 L487.6,1065.6 L489.6,1065.1 L491.6,1064.6 L493.6,1064.2 L495.6,1063.7 L497.6,1063.2 L499.6,1062.7 L501.6,1062.2 L503.6,1061.7 L505.6,1061.2 L507.6,1060.7 L509.6,1060.1 L511.6,1059.6 L513.6,1059.1 L515.6,1058.5 L517.6,1057.9 L519.6,1057.4 L521.6,1056.8 L523.6,1056.2 L525.6,1055.6 L527.6,1055.0 L529.6,1054.4 L531.6,1053.8 L533.6,1053.1 L535.6,1052.5 L537.6,1051.9 L539.6,1051.2 L541.6,1050.5 L543.6,1049.9 L545.6,1049.2 L547.6,1048.5 L549.6,1047.8 L551.6,1047.1 L553.6,1046.4 L555.6,1045.6 L557.6,1044.9 L559.6,1044.2 L561.6,1043.4 L563.6,1042.6 L565.6,1041.9 L567.6,1041.1 L569.6,1040.3 L571.6,1039.5 L573.6,1038.7 L575.6,1037.9 L577.6,1037.1 L579.6,1036.2 L581.6,1035.4 L583.6,1034.5 L585.6,1033.7 L587.6,1032.8 L589.6,1031.9 L591.6,1031.0 L593.6,1030.1 L595.6,1029.2 L597.6,1028.3 L599.6,1027.4 L601.6,1026.5 L603.6,1025.5 L605.6,1024.6 L607.6,1023.6 L609.6,1022.7 L611.6,1021.7 L613.6,1020.7 L615.6,1019.7 L617.6,1018.7 L619.6,1017.7 L621.6,1016.7 L623.6,1015.7 L625.6,1014.7 L627.6,1013.7 L629.6,1012.6 L631.6,1011.6 L633.6,1010.5 L635.6,1009.4 L637.6,1008.4 L639.6,1007.3 L641.6,1006.2 L643.6,1005.1 L645.6,1004.0 L647.6,1002.9 L649.6,1001.8 L651.6,1000.7 L653.6,999.6 L655.6,998.4 L657.6,997.3 L659.6,996.2 L661.6,995.0 L663.6,993.9 L665.6,992.7 L667.6,991.5 L669.6,990.4 L671.6,989.2 L673.6,988.0 L675.6,986.9 L677.6,985.7 L679.6,984.5 L681.6,983.3 L683.6,982.1 L685.6,980.9 L687.6,979.7 L689.6,978.5 L691.6,977.3 L693.6,976.1 L695.6,974.9 L697.6,973.6 L699.6,972.4 L701.6,971.2 L703.6,970.0 L705.6,968.8 L707.6,967.5 L709.6,966.3 L711.6,965.1 L713.6,963.9 L715.6,962.6 L717.6,961.4 L719.6,960.2 L721.6,959.0 L723.6,957.7 L725.6,956.5 L727.6,955.3 L729.6,954.1 L731.6,952.9 L733.6,951.6 L735.6,950.4 L737.6,949.2 L739.6,948.0 L741.6,946.8 L743.6,945.6 L745.6,944.4 L747.6,943.2 L749.6,942.0 L751.6,940.8 L753.6,939.6 L755.6,938.5 L757.6,937.3 L759.6,936.1 L761.6,935.0 L763.6,933.8 L765.6,932.7 L767.6,931.5 L769.6,930.4 L771.6,929.3 L773.6,928.2 L775.6,927.0 L777.6,925.9 L779.6,924.8 L781.6,923.8 L783.6,922.7 L785.6,921.6 L787.6,920.6 L789.6,919.5 L791.6,918.5 L793.6,917.4 L795.6,916.4 L797.6,915.4 L799.6,914.4 L801.6,913.4 L803.6,912.4 L805.6,911.5 L807.6,910.5 L809.6,909.6 L811.6,908.7 L813.6,907.7 L815.6,906.8 L817.6,906.0 L819.6,905.1 L821.6,904.2 L823.6,903.4 L825.6,902.5 L827.6,901.7 L829.6,900.9 L831.6,900.1 L833.6,899.3 L835.6,898.6 L837.6,897.8 L839.6,897.1 L841.6,896.4 L843.6,895.7 L845.6,895.0 L847.6,894.4 L849.6,893.7 L851.6,893.1 L853.6,892.5 L855.6,891.9 L857.6,891.3 L859.6,890.7 L861.6,890.2 L863.6,889.7 L865.6,889.1 L867.6,888.7 L869.6,888.2 L871.6,887.7 L873.6,887.3 L875.6,886.9 L877.6,886.5 L879.6,886.1 L881.6,885.7 L883.6,885.4 L885.6,885.1 L887.6,884.8 L889.6,884.5 L891.6,884.2 L893.6,884.0 L895.6,883.7 L897.6,883.5 L899.6,883.3 L901.6,883.2 L903.6,883.0 L905.6,882.9 L907.6,882.8 L909.6,882.7 L911.6,882.6 L913.6,882.6 L915.6,882.6 L917.6,882.6 L919.6,882.6 L921.6,882.6 L923.6,882.7 L925.6,882.7 L927.6,882.8 L929.6,882.9 L931.6,883.1 L933.6,883.2 L935.6,883.4 L937.6,883.6 L939.6,883.8 L941.6,884.0 L943.6,884.3 L945.6,884.5 L947.6,884.8 L949.6,885.1 L951.6,885.5 L953.6,885.8 L955.6,886.2 L957.6,886.6 L959.6,887.0 L961.6,887.4 L963.6,887.8 L965.6,888.3 L967.6,888.8 L969.6,889.3 L971.6,889.8 L973.6,890.3 L975.6,890.8 L977.6,891.4 L979.6,892.0 L981.6,892.6 L983.6,893.2 L985.6,893.9 L987.6,894.5 L989.6,895.2 L991.6,895.9 L993.6,896.6 L995.6,897.3 L997.6,898.0 L999.6,898.8 L1001.6,899.5 L1003.6,900.3 L1005.6,901.1 L1007.6,901.9 L1009.6,902.7 L1011.6,903.6 L1013.6,904.4 L1015.6,905.3 L1017.6,906.2 L1019.6,907.0 L1021.6,907.9 L1023.6,908.9 L1025.7,909.8 L1027.7,910.7 L1029.7,911.7 L1031.7,912.7 L1033.7,913.6 L1035.7,914.6 L1037.7,915.6 L1039.7,916.6 L1041.7,917.7 L1043.7,918.7 L1045.7,919.7 L1047.7,920.8 L1049.7,921.8 L1051.7,922.9 L1053.7,924.0 L1055.7,925.1 L1057.7,926.2 L1059.7,927.3 L1061.7,928.4 L1063.7,929.5 L1065.7,930.7 L1067.7,931.8 L1069.7,932.9 L1071.7,934.1 L1073.7,935.2 L1075.7,936.4 L1077.7,937.6 L1079.7,938.7 L1081.7,939.9 L1083.7,941.1 L1085.7,942.3 L1087.7,943.5 L1089.7,944.7 L1091.7,945.9 L1093.7,947.1 L1095.7,948.3 L1097.7,949.5 L1099.7,950.7 L1101.7,951.9 L1103.7,953.1 L1105.7,954.3 L1107.7,955.6 L1109.7,956.8 L1111.7,958.0 L1113.7,959.2 L1115.7,960.5 L1117.7,961.7 L1119.7,962.9 L1121.7,964.1 L1123.7,965.4 L1125.7,966.6 L1127.7,967.8 L1129.7,969.0 L1131.7,970.2 L1133.7,971.5 L1135.7,972.7 L1137.7,973.9 L1139.7,975.1 L1141.7,976.3 L1143.7,977.5 L1145.7,978.8 L1147.7,980.0 L1149.7,981.2 L1151.7,982.4 L1153.7,983.6 L1155.7,984.7 L1157.7,985.9 L1159.7,987.1 L1161.7,988.3 L1163.7,989.5 L1165.7,990.6 L1167.7,991.8 L1169.7,993.0 L1171.7,994.1 L1173.7,995.3 L1175.7,996.4 L1177.7,997.6 L1179.7,998.7 L1181.7,999.8 L1183.7,1000.9 L1185.7,1002.1 L1187.7,1003.2 L1189.7,1004.3 L1191.7,1005.4 L1193.7,1006.5 L1195.7,1007.5 L1197.7,1008.6 L1199.7,1009.7 L1201.7,1010.7 L1203.7,1011.8 L1205.7,1012.8 L1207.7,1013.9 L1209.7,1014.9 L1211.7,1015.9 L1213.7,1017.0 L1215.7,1018.0 L1217.7,1019.0 L1219.7,1020.0 L1221.7,1020.9 L1223.7,1021.9 L1225.7,1022.9 L1227.7,1023.9 L1229.7,1024.8 L1231.7,1025.8 L1233.7,1026.7 L1235.7,1027.6 L1237.7,1028.5 L1239.7,1029.4 L1241.7,1030.3 L1243.7,1031.2 L1245.7,1032.1 L1247.7,1033.0 L1249.7,1033.9 L1251.7,1034.7 L1253.7,1035.6 L1255.7,1036.4 L1257.7,1037.2 L1259.7,1038.1 L1261.7,1038.9 L1263.7,1039.7 L1265.7,1040.5 L1267.7,1041.3 L1269.7,1042.0 L1271.7,1042.8 L1273.7,1043.6 L1275.7,1044.3 L1277.7,1045.1 L1279.7,1045.8 L1281.7,1046.5 L1283.7,1047.2 L1285.7,1047.9 L1287.7,1048.6 L1289.7,1049.3 L1291.7,1050.0 L1293.7,1050.7 L1295.7,1051.3 L1297.7,1052.0 L1299.7,1052.6 L1301.7,1053.3 L1303.7,1053.9 L1305.7,1054.5 L1307.7,1055.1 L1309.7,1055.7 L1311.7,1056.3 L1313.7,1056.9 L1315.7,1057.5 L1317.7,1058.1 L1319.7,1058.6 L1321.7,1059.2 L1323.7,1059.7 L1325.7,1060.3 L1327.7,1060.8 L1329.7,1061.3 L1331.7,1061.8 L1333.7,1062.3 L1335.7,1062.8 L1337.7,1063.3 L1339.7,1063.8 L1341.7,1064.3 L1343.7,1064.7 L1345.7,1065.2 L1347.7,1065.7 L1349.7,1066.1 L1351.7,1066.5 L1353.7,1067.0 L1355.7,1067.4 L1357.7,1067.8 L1359.7,1068.2 L1361.7,1068.6 L1363.7,1069.0 L1365.7,1069.4 L1367.7,1069.8 L1369.7,1070.2 L1371.7,1070.5 L1373.7,1070.9 L1375.7,1071.2 L1377.7,1071.6 L1379.7,1071.9 L1381.7,1072.3 L1383.7,1072.6 L1385.7,1072.9 L1387.7,1073.2 L1389.7,1073.6 L1391.7,1073.9 L1393.7,1074.2 L1395.7,1074.5 L1397.7,1074.8 L1399.7,1075.0 L1401.7,1075.3 L1403.7,1075.6 L1405.7,1075.9 L1407.7,1076.1 L1409.7,1076.4 L1411.7,1076.6 L1413.7,1076.9 L1415.7,1077.1 L1417.7,1077.4 L1419.7,1077.6 L1421.7,1077.8 L1423.7,1078.0 L1425.7,1078.3 L1427.7,1078.5 L1429.7,1078.7 L1431.7,1078.9 L1433.7,1079.1 L1435.7,1079.3 L1437.7,1079.5 L1439.7,1079.7 L1441.7,1079.9 L1443.7,1080.0 L1445.7,1080.2 L1447.7,1080.4 L1449.7,1080.6 L1451.7,1080.7 L1453.7,1080.9 L1455.7,1081.0 L1457.7,1081.2 L1459.7,1081.4 L1461.7,1081.5 L1463.7,1081.6 L1465.7,1081.8 L1467.7,1081.9 L1469.7,1082.1 L1471.7,1082.2 L1473.7,1082.3 L1475.7,1082.4 L1477.7,1082.6 L1479.7,1082.7 L1481.7,1082.8 L1483.7,1082.9 L1485.7,1083.0 L1487.7,1083.1 L1489.7,1083.2 L1491.7,1083.3 L1493.7,1083.4 L1495.7,1083.5 L1497.7,1083.6 L1499.7,1083.7 L1501.7,1083.8 L1503.7,1083.9 L1505.7,1084.0 L1507.7,1084.1 L1509.7,1084.2 L1511.7,1084.3 L1513.7,1084.3 L1515.7,1084.4 L1517.7,1084.5 L1519.7,1084.6 L1521.7,1084.6 L1523.7,1084.7 L1525.7,1084.8 L1527.7,1084.8 L1529.7,1084.9 L1531.7,1085.0 L1533.7,1085.0 L1535.7,1085.1 L1537.7,1085.1 L1539.7,1085.2 L1541.7,1085.2 L1543.7,1085.3 L1545.7,1085.3 L1547.7,1085.4 L1549.7,1085.4 L1551.7,1085.5 L1553.7,1085.5 L1555.7,1085.6 L1557.7,1085.6 L1559.7,1085.7 L1561.7,1085.7 L1563.7,1085.8 L1565.7,1085.8 L1567.7,1085.8 L1569.7,1085.9 L1571.7,1085.9 L1573.7,1085.9 L1575.7,1086.0 L1577.7,1086.0 L1579.7,1086.0 L1581.7,1086.1 L1583.7,1086.1 L1585.7,1086.1 L1587.7,1086.2 L1589.7,1086.2 L1591.7,1086.2 L1593.7,1086.2 L1595.7,1086.3 L1597.7,1086.3 L1600.2,1086.3 L1600.2,1087.0 L233.7,1087.0 Z" stroke="none"/>
<path d="M233.7,1086.3 L235.7,1086.3 L237.7,1086.3 L239.7,1086.3 L241.7,1086.2 L243.7,1086.2 L245.7,1086.2 L247.7,1086.1 L249.7,1086.1 L251.7,1086.1 L253.7,1086.1 L255.7,1086.0 L257.6,1086.0 L259.6,1086.0 L261.6,1085.9 L263.6,1085.9 L265.6,1085.9 L267.6,1085.8 L269.6,1085.8 L271.6,1085.7 L273.6,1085.7 L275.6,1085.7 L277.6,1085.6 L279.6,1085.6 L281.6,1085.5 L283.6,1085.5 L285.6,1085.4 L287.6,1085.4 L289.6,1085.3 L291.6,1085.3 L293.6,1085.2 L295.6,1085.2 L297.6,1085.1 L299.6,1085.1 L301.6,1085.0 L303.6,1084.9 L305.6,1084.9 L307.6,1084.8 L309.6,1084.8 L311.6,1084.7 L313.6,1084.6 L315.6,1084.5 L317.6,1084.5 L319.6,1084.4 L321.6,1084.3 L323.6,1084.2 L325.6,1084.2 L327.6,1084.1 L329.6,1084.0 L331.6,1083.9 L333.6,1083.8 L335.6,1083.7 L337.6,1083.6 L339.6,1083.5 L341.6,1083.4 L343.6,1083.3 L345.6,1083.2 L347.6,1083.1 L349.6,1083.0 L351.6,1082.9 L353.6,1082.8 L355.6,1082.7 L357.6,1082.5 L359.6,1082.4 L361.6,1082.3 L363.6,1082.2 L365.6,1082.0 L367.6,1081.9 L369.6,1081.8 L371.6,1081.6 L373.6,1081.5 L375.6,1081.3 L377.6,1081.2 L379.6,1081.0 L381.6,1080.9 L383.6,1080.7 L385.6,1080.5 L387.6,1080.4 L389.6,1080.2 L391.6,1080.0 L393.6,1079.8 L395.6,1079.6 L397.6,1079.4 L399.6,1079.3 L401.6,1079.1 L403.6,1078.9 L405.6,1078.6 L407.6,1078.4 L409.6,1078.2 L411.6,1078.0 L413.6,1077.8 L415.6,1077.5 L417.6,1077.3 L419.6,1077.1 L421.6,1076.8 L423.6,1076.6 L425.6,1076.3 L427.6,1076.1 L429.6,1075.8 L431.6,1075.5 L433.6,1075.3 L435.6,1075.0 L437.6,1074.7 L439.6,1074.4 L441.6,1074.1 L443.6,1073.8 L445.6,1073.5 L447.6,1073.2 L449.6,1072.9 L451.6,1072.5 L453.6,1072.2 L455.6,1071.9 L457.6,1071.5 L459.6,1071.2 L461.6,1070.8 L463.6,1070.4 L465.6,1070.1 L467.6,1069.7 L469.6,1069.3 L471.6,1068.9 L473.6,1068.5 L475.6,1068.1 L477.6,1067.7 L479.6,1067.3 L481.6,1066.9 L483.6,1066.4 L485.6,1066.0 L487.6,1065.6 L489.6,1065.1 L491.6,1064.6 L493.6,1064.2 L495.6,1063.7 L497.6,1063.2 L499.6,1062.7 L501.6,1062.2 L503.6,1061.7 L505.6,1061.2 L507.6,1060.7 L509.6,1060.1 L511.6,1059.6 L513.6,1059.1 L515.6,1058.5 L517.6,1057.9 L519.6,1057.4 L521.6,1056.8 L523.6,1056.2 L525.6,1055.6 L527.6,1055.0 L529.6,1054.4 L531.6,1053.8 L533.6,1053.1 L535.6,1052.5 L537.6,1051.9 L539.6,1051.2 L541.6,1050.5 L543.6,1049.9 L545.6,1049.2 L547.6,1048.5 L549.6,1047.8 L551.6,1047.1 L553.6,1046.4 L555.6,1045.6 L557.6,1044.9 L559.6,1044.2 L561.6,1043.4 L563.6,1042.6 L565.6,1041.9 L567.6,1041.1 L569.6,1040.3 L571.6,1039.5 L573.6,1038.7 L575.6,1037.9 L577.6,1037.1 L579.6,1036.2 L581.6,1035.4 L583.6,1034.5 L585.6,1033.7 L587.6,1032.8 L589.6,1031.9 L591.6,1031.0 L593.6,1030.1 L595.6,1029.2 L597.6,1028.3 L599.6,1027.4 L601.6,1026.5 L603.6,1025.5 L605.6,1024.6 L607.6,1023.6 L609.6,1022.7 L611.6,1021.7 L613.6,1020.7 L615.6,1019.7 L617.6,1018.7 L619.6,1017.7 L621.6,1016.7 L623.6,1015.7 L625.6,1014.7 L627.6,1013.7 L629.6,1012.6 L631.6,1011.6 L633.6,1010.5 L635.6,1009.4 L637.6,1008.4 L639.6,1007.3 L641.6,1006.2 L643.6,1005.1 L645.6,1004.0 L647.6,1002.9 L649.6,1001.8 L651.6,1000.7 L653.6,999.6 L655.6,998.4 L657.6,997.3 L659.6,996.2 L661.6,995.0 L663.6,993.9 L665.6,992.7 L667.6,991.5 L669.6,990.4 L671.6,989.2 L673.6,988.0 L675.6,986.9 L677.6,985.7 L679.6,984.5 L681.6,983.3 L683.6,982.1 L685.6,980.9 L687.6,979.7 L689.6,978.5 L691.6,977.3 L693.6,976.1 L695.6,974.9 L697.6,973.6 L699.6,972.4 L701.6,971.2 L703.6,970.0 L705.6,968.8 L707.6,967.5 L709.6,966.3 L711.6,965.1 L713.6,963.9 L715.6,962.6 L717.6,961.4 L719.6,960.2 L721.6,959.0 L723.6,957.7 L725.6,956.5 L727.6,955.3 L729.6,954.1 L731.6,952.9 L733.6,951.6 L735.6,950.4 L737.6,949.2 L739.6,948.0 L741.6,946.8 L743.6,945.6 L745.6,944.4 L747.6,943.2 L749.6,942.0 L751.6,940.8 L753.6,939.6 L755.6,938.5 L757.6,937.3 L759.6,936.1 L761.6,935.0 L763.6,933.8 L765.6,932.7 L767.6,931.5 L769.6,930.4 L771.6,929.3 L773.6,928.2 L775.6,927.0 L777.6,925.9 L779.6,924.8 L781.6,923.8 L783.6,922.7 L785.6,921.6 L787.6,920.6 L789.6,919.5 L791.6,918.5 L793.6,917.4 L795.6,916.4 L797.6,915.4 L799.6,914.4 L801.6,913.4 L803.6,912.4 L805.6,911.5 L807.6,910.5 L809.6,909.6 L811.6,908.7 L813.6,907.7 L815.6,906.8 L817.6,906.0 L819.6,905.1 L821.6,904.2 L823.6,903.4 L825.6,902.5 L827.6,901.7 L829.6,900.9 L831.6,900.1 L833.6,899.3 L835.6,898.6 L837.6,897.8 L839.6,897.1 L841.6,896.4 L843.6,895.7 L845.6,895.0 L847.6,894.4 L849.6,893.7 L851.6,893.1 L853.6,892.5 L855.6,891.9 L857.6,891.3 L859.6,890.7 L861.6,890.2 L863.6,889.7 L865.6,889.1 L867.6,888.7 L869.6,888.2 L871.6,887.7 L873.6,887.3 L875.6,886.9 L877.6,886.5 L879.6,886.1 L881.6,885.7 L883.6,885.4 L885.6,885.1 L887.6,884.8 L889.6,884.5 L891.6,884.2 L893.6,884.0 L895.6,883.7 L897.6,883.5 L899.6,883.3 L901.6,883.2 L903.6,883.0 L905.6,882.9 L907.6,882.8 L909.6,882.7 L911.6,882.6 L913.6,882.6 L915.6,882.6 L917.6,882.6 L919.6,882.6 L921.6,882.6 L923.6,882.7 L925.6,882.7 L927.6,882.8 L929.6,882.9 L931.6,883.1 L933.6,883.2 L935.6,883.4 L937.6,883.6 L939.6,883.8 L941.6,884.0 L943.6,884.3 L945.6,884.5 L947.6,884.8 L949.6,885.1 L951.6,885.5 L953.6,885.8 L955.6,886.2 L957.6,886.6 L959.6,887.0 L961.6,887.4 L963.6,887.8 L965.6,888.3 L967.6,888.8 L969.6,889.3 L971.6,889.8 L973.6,890.3 L975.6,890.8 L977.6,891.4 L979.6,892.0 L981.6,892.6 L983.6,893.2 L985.6,893.9 L987.6,894.5 L989.6,895.2 L991.6,895.9 L993.6,896.6 L995.6,897.3 L997.6,898.0 L999.6,898.8 L1001.6,899.5 L1003.6,900.3 L1005.6,901.1 L1007.6,901.9 L1009.6,902.7 L1011.6,903.6 L1013.6,904.4 L1015.6,905.3 L1017.6,906.2 L1019.6,907.0 L1021.6,907.9 L1023.6,908.9 L1025.7,909.8 L1027.7,910.7 L1029.7,911.7 L1031.7,912.7 L1033.7,913.6 L1035.7,914.6 L1037.7,915.6 L1039.7,916.6 L1041.7,917.7 L1043.7,918.7 L1045.7,919.7 L1047.7,920.8 L1049.7,921.8 L1051.7,922.9 L1053.7,924.0 L1055.7,925.1 L1057.7,926.2 L1059.7,927.3 L1061.7,928.4 L1063.7,929.5 L1065.7,930.7 L1067.7,931.8 L1069.7,932.9 L1071.7,934.1 L1073.7,935.2 L1075.7,936.4 L1077.7,937.6 L1079.7,938.7 L1081.7,939.9 L1083.7,941.1 L1085.7,942.3 L1087.7,943.5 L1089.7,944.7 L1091.7,945.9 L1093.7,947.1 L1095.7,948.3 L1097.7,949.5 L1099.7,950.7 L1101.7,951.9 L1103.7,953.1 L1105.7,954.3 L1107.7,955.6 L1109.7,956.8 L1111.7,958.0 L1113.7,959.2 L1115.7,960.5 L1117.7,961.7 L1119.7,962.9 L1121.7,964.1 L1123.7,965.4 L1125.7,966.6 L1127.7,967.8 L1129.7,969.0 L1131.7,970.2 L1133.7,971.5 L1135.7,972.7 L1137.7,973.9 L1139.7,975.1 L1141.7,976.3 L1143.7,977.5 L1145.7,978.8 L1147.7,980.0 L1149.7,981.2 L1151.7,982.4 L1153.7,983.6 L1155.7,984.7 L1157.7,985.9 L1159.7,987.1 L1161.7,988.3 L1163.7,989.5 L1165.7,990.6 L1167.7,991.8 L1169.7,993.0 L1171.7,994.1 L1173.7,995.3 L1175.7,996.4 L1177.7,997.6 L1179.7,998.7 L1181.7,999.8 L1183.7,1000.9 L1185.7,1002.1 L1187.7,1003.2 L1189.7,1004.3 L1191.7,1005.4 L1193.7,1006.5 L1195.7,1007.5 L1197.7,1008.6 L1199.7,1009.7 L1201.7,1010.7 L1203.7,1011.8 L1205.7,1012.8 L1207.7,1013.9 L1209.7,1014.9 L1211.7,1015.9 L1213.7,1017.0 L1215.7,1018.0 L1217.7,1019.0 L1219.7,1020.0 L1221.7,1020.9 L1223.7,1021.9 L1225.7,1022.9 L1227.7,1023.9 L1229.7,1024.8 L1231.7,1025.8 L1233.7,1026.7 L1235.7,1027.6 L1237.7,1028.5 L1239.7,1029.4 L1241.7,1030.3 L1243.7,1031.2 L1245.7,1032.1 L1247.7,1033.0 L1249.7,1033.9 L1251.7,1034.7 L1253.7,1035.6 L1255.7,1036.4 L1257.7,1037.2 L1259.7,1038.1 L1261.7,1038.9 L1263.7,1039.7 L1265.7,1040.5 L1267.7,1041.3 L1269.7,1042.0 L1271.7,1042.8 L1273.7,1043.6 L1275.7,1044.3 L1277.7,1045.1 L1279.7,1045.8 L1281.7,1046.5 L1283.7,1047.2 L1285.7,1047.9 L1287.7,1048.6 L1289.7,1049.3 L1291.7,1050.0 L1293.7,1050.7 L1295.7,1051.3 L1297.7,1052.0 L1299.7,1052.6 L1301.7,1053.3 L1303.7,1053.9 L1305.7,1054.5 L1307.7,1055.1 L1309.7,1055.7 L1311.7,1056.3 L1313.7,1056.9 L1315.7,1057.5 L1317.7,1058.1 L1319.7,1058.6 L1321.7,1059.2 L1323.7,1059.7 L1325.7,1060.3 L1327.7,1060.8 L1329.7,1061.3 L1331.7,1061.8 L1333.7,1062.3 L1335.7,1062.8 L1337.7,1063.3 L1339.7,1063.8 L1341.7,1064.3 L1343.7,1064.7 L1345.7,1065.2 L1347.7,1065.7 L1349.7,1066.1 L1351.7,1066.5 L1353.7,1067.0 L1355.7,1067.4 L1357.7,1067.8 L1359.7,1068.2 L1361.7,1068.6 L1363.7,1069.0 L1365.7,1069.4 L1367.7,1069.8 L1369.7,1070.2 L1371.7,1070.5 L1373.7,1070.9 L1375.7,1071.2 L1377.7,1071.6 L1379.7,1071.9 L1381.7,1072.3 L1383.7,1072.6 L1385.7,1072.9 L1387.7,1073.2 L1389.7,1073.6 L1391.7,1073.9 L1393.7,1074.2 L1395.7,1074.5 L1397.7,1074.8 L1399.7,1075.0 L1401.7,1075.3 L1403.7,1075.6 L1405.7,1075.9 L1407.7,1076.1 L1409.7,1076.4 L1411.7,1076.6 L1413.7,1076.9 L1415.7,1077.1 L1417.7,1077.4 L1419.7,1077.6 L1421.7,1077.8 L1423.7,1078.0 L1425.7,1078.3 L1427.7,1078.5 L1429.7,1078.7 L1431.7,1078.9 L1433.7,1079.1 L1435.7,1079.3 L1437.7,1079.5 L1439.7,1079.7 L1441.7,1079.9 L1443.7,1080.0 L1445.7,1080.2 L1447.7,1080.4 L1449.7,1080.6 L1451.7,1080.7 L1453.7,1080.9 L1455.7,1081.0 L1457.7,1081.2 L1459.7,1081.4 L1461.7,1081.5 L1463.7,1081.6 L1465.7,1081.8 L1467.7,1081.9 L1469.7,1082.1 L1471.7,1082.2 L1473.7,1082.3 L1475.7,1082.4 L1477.7,1082.6 L1479.7,1082.7 L1481.7,1082.8 L1483.7,1082.9 L1485.7,1083.0 L1487.7,1083.1 L1489.7,1083.2 L1491.7,1083.3 L1493.7,1083.4 L1495.7,1083.5 L1497.7,1083.6 L1499.7,1083.7 L1501.7,1083.8 L1503.7,1083.9 L1505.7,1084.0 L1507.7,1084.1 L1509.7,1084.2 L1511.7,1084.3 L1513.7,1084.3 L1515.7,1084.4 L1517.7,1084.5 L1519.7,1084.6 L1521.7,1084.6 L1523.7,1084.7 L1525.7,1084.8 L1527.7,1084.8 L1529.7,1084.9 L1531.7,1085.0 L1533.7,1085.0 L1535.7,1085.1 L1537.7,1085.1 L1539.7,1085.2 L1541.7,1085.2 L1543.7,1085.3 L1545.7,1085.3 L1547.7,1085.4 L1549.7,1085.4 L1551.7,1085.5 L1553.7,1085.5 L1555.7,1085.6 L1557.7,1085.6 L1559.7,1085.7 L1561.7,1085.7 L1563.7,1085.8 L1565.7,1085.8 L1567.7,1085.8 L1569.7,1085.9 L1571.7,1085.9 L1573.7,1085.9 L1575.7,1086.0 L1577.7,1086.0 L1579.7,1086.0 L1581.7,1086.1 L1583.7,1086.1 L1585.7,1086.1 L1587.7,1086.2 L1589.7,1086.2 L1591.7,1086.2 L1593.7,1086.2 L1595.7,1086.3 L1597.7,1086.3 L1600.2,1086.3" fill="none"/>
<path d="M233.7,1087.0 L235.7,1087.0 L237.7,1087.0 L239.7,1087.0 L241.7,1087.0 L243.7,1087.0 L245.7,1087.0 L247.7,1087.0 L249.7,1087.0 L251.7,1087.0 L253.7,1087.0 L255.7,1087.0 L257.6,1087.0 L259.6,1087.0 L261.6,1087.0 L263.6,1087.0 L265.6,1087.0 L267.6,1087.0 L269.6,1087.0 L271.6,1087.0 L273.6,1087.0 L275.6,1087.0 L277.6,1087.0 L279.6,1087.0 L281.6,1087.0 L283.6,1087.0 L285.6,1087.0 L287.6,1087.0 L289.6,1087.0 L291.6,1087.0 L293.6,1087.0 L295.6,1087.0 L297.6,1087.0 L299.6,1087.0 L301.6,1087.0 L303.6,1087.0 L305.6,1087.0 L307.6,1087.0 L309.6,1087.0 L311.6,1087.0 L313.6,1087.0 L315.6,1087.0 L317.6,1087.0 L319.6,1087.0 L321.6,1087.0 L323.6,1087.0 L325.6,1086.9 L327.6,1086.9 L329.6,1086.9 L331.6,1086.9 L333.6,1086.9 L335.6,1086.9 L337.6,1086.9 L339.6,1086.9 L341.6,1086.9 L343.6,1086.9 L345.6,1086.9 L347.6,1086.9 L349.6,1086.9 L351.6,1086.9 L353.6,1086.9 L355.6,1086.9 L357.6,1086.9 L359.6,1086.9 L361.6,1086.9 L363.6,1086.9 L365.6,1086.9 L367.6,1086.9 L369.6,1086.9 L371.6,1086.9 L373.6,1086.9 L375.6,1086.9 L377.6,1086.9 L379.6,1086.9 L381.6,1086.9 L383.6,1086.9 L385.6,1086.8 L387.6,1086.8 L389.6,1086.8 L391.6,1086.8 L393.6,1086.8 L395.6,1086.8 L397.6,1086.8 L399.6,1086.8 L401.6,1086.8 L403.6,1086.8 L405.6,1086.8 L407.6,1086.8 L409.6,1086.8 L411.6,1086.8 L413.6,1086.8 L415.6,1086.7 L417.6,1086.7 L419.6,1086.7 L421.6,1086.7 L423.6,1086.7 L425.6,1086.7 L427.6,1086.7 L429.6,1086.7 L431.6,1086.7 L433.6,1086.7 L435.6,1086.6 L437.6,1086.6 L439.6,1086.6 L441.6,1086.6 L443.6,1086.6 L445.6,1086.6 L447.6,1086.6 L449.6,1086.5 L451.6,1086.5 L453.6,1086.5 L455.6,1086.5 L457.6,1086.5 L459.6,1086.5 L461.6,1086.5 L463.6,1086.4 L465.6,1086.4 L467.6,1086.4 L469.6,1086.4 L471.6,1086.4 L473.6,1086.3 L475.6,1086.3 L477.6,1086.3 L479.6,1086.3 L481.6,1086.3 L483.6,1086.2 L485.6,1086.2 L487.6,1086.2 L489.6,1086.2 L491.6,1086.1 L493.6,1086.1 L495.6,1086.1 L497.6,1086.1 L499.6,1086.0 L501.6,1086.0 L503.6,1086.0 L505.6,1085.9 L507.6,1085.9 L509.6,1085.9 L511.6,1085.8 L513.6,1085.8 L515.6,1085.8 L517.6,1085.7 L519.6,1085.7 L521.6,1085.7 L523.6,1085.6 L525.6,1085.6 L527.6,1085.5 L529.6,1085.5 L531.6,1085.5 L533.6,1085.4 L535.6,1085.4 L537.6,1085.3 L539.6,1085.3 L541.6,1085.2 L543.6,1085.2 L545.6,1085.1 L547.6,1085.1 L549.6,1085.0 L551.6,1085.0 L553.6,1084.9 L555.6,1084.9 L557.6,1084.8 L559.6,1084.8 L561.6,1084.7 L563.6,1084.6 L565.6,1084.6 L567.6,1084.5 L569.6,1084.4 L571.6,1084.4 L573.6,1084.3 L575.6,1084.2 L577.6,1084.2 L579.6,1084.1 L581.6,1084.0 L583.6,1083.9 L585.6,1083.9 L587.6,1083.8 L589.6,1083.7 L591.6,1083.6 L593.6,1083.5 L595.6,1083.4 L597.6,1083.4 L599.6,1083.3 L601.6,1083.2 L603.6,1083.1 L605.6,1083.0 L607.6,1082.9 L609.6,1082.8 L611.6,1082.7 L613.6,1082.6 L615.6,1082.5 L617.6,1082.4 L619.6,1082.3 L621.6,1082.1 L623.6,1082.0 L625.6,1081.9 L627.6,1081.8 L629.6,1081.7 L631.6,1081.6 L633.6,1081.4 L635.6,1081.3 L637.6,1081.2 L639.6,1081.0 L641.6,1080.9 L643.6,1080.8 L645.6,1080.6 L647.6,1080.5 L649.6,1080.3 L651.6,1080.2 L653.6,1080.0 L655.6,1079.9 L657.6,1079.7 L659.6,1079.6 L661.6,1079.4 L663.6,1079.3 L665.6,1079.1 L667.6,1078.9 L669.6,1078.8 L671.6,1078.6 L673.6,1078.4 L675.6,1078.2 L677.6,1078.0 L679.6,1077.9 L681.6,1077.7 L683.6,1077.5 L685.6,1077.3 L687.6,1077.1 L689.6,1076.9 L691.6,1076.7 L693.6,1076.5 L695.6,1076.3 L697.6,1076.1 L699.6,1075.9 L701.6,1075.6 L703.6,1075.4 L705.6,1075.2 L707.6,1075.0 L709.6,1074.7 L711.6,1074.5 L713.6,1074.3 L715.6,1074.0 L717.6,1073.8 L719.6,1073.5 L721.6,1073.3 L723.6,1073.0 L725.6,1072.8 L727.6,1072.5 L729.6,1072.3 L731.6,1072.0 L733.6,1071.7 L735.6,1071.5 L737.6,1071.2 L739.6,1070.9 L741.6,1070.6 L743.6,1070.3 L745.6,1070.1 L747.6,1069.8 L749.6,1069.5 L751.6,1069.2 L753.6,1068.9 L755.6,1068.6 L757.6,1068.3 L759.6,1068.0 L761.6,1067.7 L763.6,1067.3 L765.6,1067.0 L767.6,1066.7 L769.6,1066.4 L771.6,1066.0 L773.6,1065.7 L775.6,1065.4 L777.6,1065.0 L779.6,1064.7 L781.6,1064.4 L783.6,1064.0 L785.6,1063.7 L787.6,1063.3 L789.6,1063.0 L791.6,1062.6 L793.6,1062.2 L795.6,1061.9 L797.6,1061.5 L799.6,1061.1 L801.6,1060.8 L803.6,1060.4 L805.6,1060.0 L807.6,1059.6 L809.6,1059.3 L811.6,1058.9 L813.6,1058.5 L815.6,1058.1 L817.6,1057.7 L819.6,1057.3 L821.6,1056.9 L823.6,1056.5 L825.6,1056.1 L827.6,1055.7 L829.6,1055.3 L831.6,1054.9 L833.6,1054.5 L835.6,1054.1 L837.6,1053.7 L839.6,1053.3 L841.6,1052.8 L843.6,1052.4 L845.6,1052.0 L847.6,1051.6 L849.6,1051.2 L851.6,1050.7 L853.6,1050.3 L855.6,1049.9 L857.6,1049.5 L859.6,1049.0 L861.6,1048.6 L863.6,1048.2 L865.6,1047.7 L867.6,1047.3 L869.6,1046.9 L871.6,1046.5 L873.6,1046.0 L875.6,1045.6 L877.6,1045.2 L879.6,1044.7 L881.6,1044.3 L883.6,1043.9 L885.6,1043.4 L887.6,1043.0 L889.6,1042.5 L891.6,1042.1 L893.6,1041.7 L895.6,1041.2 L897.6,1040.8 L899.6,1040.4 L901.6,1040.0 L903.6,1039.5 L905.6,1039.1 L907.6,1038.7 L909.6,1038.2 L911.6,1037.8 L913.6,1037.4 L915.6,1037.0 L917.6,1036.5 L919.6,1036.1 L921.6,1035.7 L923.6,1035.3 L925.6,1034.9 L927.6,1034.5 L929.6,1034.0 L931.6,1033.6 L933.6,1033.2 L935.6,1032.8 L937.6,1032.4 L939.6,1032.0 L941.6,1031.6 L943.6,1031.2 L945.6,1030.8 L947.6,1030.5 L949.6,1030.1 L951.6,1029.7 L953.6,1029.3 L955.6,1028.9 L957.6,1028.6 L959.6,1028.2 L961.6,1027.8 L963.6,1027.5 L965.6,1027.1 L967.6,1026.8 L969.6,1026.4 L971.6,1026.1 L973.6,1025.7 L975.6,1025.4 L977.6,1025.1 L979.6,1024.7 L981.6,1024.4 L983.6,1024.1 L985.6,1023.8 L987.6,1023.5 L989.6,1023.2 L991.6,1022.9 L993.6,1022.6 L995.6,1022.3 L997.6,1022.0 L999.6,1021.7 L1001.6,1021.4 L1003.6,1021.2 L1005.6,1020.9 L1007.6,1020.7 L1009.6,1020.4 L1011.6,1020.2 L1013.6,1019.9 L1015.6,1019.7 L1017.6,1019.5 L1019.6,1019.3 L1021.6,1019.0 L1023.6,1018.8 L1025.7,1018.6 L1027.7,1018.4 L1029.7,1018.2 L1031.7,1018.1 L1033.7,1017.9 L1035.7,1017.7 L1037.7,1017.6 L1039.7,1017.4 L1041.7,1017.3 L1043.7,1017.1 L1045.7,1017.0 L1047.7,1016.8 L1049.7,1016.7 L1051.7,1016.6 L1053.7,1016.5 L1055.7,1016.4 L1057.7,1016.3 L1059.7,1016.2 L1061.7,1016.1 L1063.7,1016.1 L1065.7,1016.0 L1067.7,1015.9 L1069.7,1015.9 L1071.7,1015.8 L1073.7,1015.8 L1075.7,1015.8 L1077.7,1015.8 L1079.7,1015.7 L1081.7,1015.7 L1083.7,1015.7 L1085.7,1015.7 L1087.7,1015.7 L1089.7,1015.8 L1091.7,1015.8 L1093.7,1015.8 L1095.7,1015.9 L1097.7,1015.9 L1099.7,1016.0 L1101.7,1016.0 L1103.7,1016.1 L1105.7,1016.2 L1107.7,1016.3 L1109.7,1016.4 L1111.7,1016.5 L1113.7,1016.6 L1115.7,1016.7 L1117.7,1016.8 L1119.7,1016.9 L1121.7,1017.1 L1123.7,1017.2 L1125.7,1017.3 L1127.7,1017.5 L1129.7,1017.7 L1131.7,1017.8 L1133.7,1018.0 L1135.7,1018.2 L1137.7,1018.4 L1139.7,1018.6 L1141.7,1018.8 L1143.7,1019.0 L1145.7,1019.2 L1147.7,1019.4 L1149.7,1019.6 L1151.7,1019.8 L1153.7,1020.1 L1155.7,1020.3 L1157.7,1020.6 L1159.7,1020.8 L1161.7,1021.1 L1163.7,1021.3 L1165.7,1021.6 L1167.7,1021.9 L1169.7,1022.2 L1171.7,1022.5 L1173.7,1022.7 L1175.7,1023.0 L1177.7,1023.3 L1179.7,1023.7 L1181.7,1024.0 L1183.7,1024.3 L1185.7,1024.6 L1187.7,1024.9 L1189.7,1025.3 L1191.7,1025.6 L1193.7,1025.9 L1195.7,1026.3 L1197.7,1026.6 L1199.7,1027.0 L1201.7,1027.3 L1203.7,1027.7 L1205.7,1028.1 L1207.7,1028.4 L1209.7,1028.8 L1211.7,1029.2 L1213.7,1029.5 L1215.7,1029.9 L1217.7,1030.3 L1219.7,1030.7 L1221.7,1031.1 L1223.7,1031.5 L1225.7,1031.9 L1227.7,1032.3 L1229.7,1032.7 L1231.7,1033.1 L1233.7,1033.5 L1235.7,1033.9 L1237.7,1034.3 L1239.7,1034.7 L1241.7,1035.1 L1243.7,1035.5 L1245.7,1036.0 L1247.7,1036.4 L1249.7,1036.8 L1251.7,1037.2 L1253.7,1037.6 L1255.7,1038.1 L1257.7,1038.5 L1259.7,1038.9 L1261.7,1039.4 L1263.7,1039.8 L1265.7,1040.2 L1267.7,1040.7 L1269.7,1041.1 L1271.7,1041.5 L1273.7,1041.9 L1275.7,1042.4 L1277.7,1042.8 L1279.7,1043.3 L1281.7,1043.7 L1283.7,1044.1 L1285.7,1044.6 L1287.7,1045.0 L1289.7,1045.4 L1291.7,1045.9 L1293.7,1046.3 L1295.7,1046.7 L1297.7,1047.2 L1299.7,1047.6 L1301.7,1048.0 L1303.7,1048.4 L1305.7,1048.9 L1307.7,1049.3 L1309.7,1049.7 L1311.7,1050.2 L1313.7,1050.6 L1315.7,1051.0 L1317.7,1051.4 L1319.7,1051.8 L1321.7,1052.3 L1323.7,1052.7 L1325.7,1053.1 L1327.7,1053.5 L1329.7,1053.9 L1331.7,1054.3 L1333.7,1054.7 L1335.7,1055.2 L1337.7,1055.6 L1339.7,1056.0 L1341.7,1056.4 L1343.7,1056.8 L1345.7,1057.2 L1347.7,1057.6 L1349.7,1057.9 L1351.7,1058.3 L1353.7,1058.7 L1355.7,1059.1 L1357.7,1059.5 L1359.7,1059.9 L1361.7,1060.3 L1363.7,1060.6 L1365.7,1061.0 L1367.7,1061.4 L1369.7,1061.7 L1371.7,1062.1 L1373.7,1062.5 L1375.7,1062.8 L1377.7,1063.2 L1379.7,1063.5 L1381.7,1063.9 L1383.7,1064.2 L1385.7,1064.6 L1387.7,1064.9 L1389.7,1065.2 L1391.7,1065.6 L1393.7,1065.9 L1395.7,1066.2 L1397.7,1066.6 L1399.7,1066.9 L1401.7,1067.2 L1403.7,1067.5 L1405.7,1067.8 L1407.7,1068.2 L1409.7,1068.5 L1411.7,1068.8 L1413.7,1069.1 L1415.7,1069.4 L1417.7,1069.7 L1419.7,1070.0 L1421.7,1070.2 L1423.7,1070.5 L1425.7,1070.8 L1427.7,1071.1 L1429.7,1071.4 L1431.7,1071.6 L1433.7,1071.9 L1435.7,1072.2 L1437.7,1072.4 L1439.7,1072.7 L1441.7,1072.9 L1443.7,1073.2 L1445.7,1073.4 L1447.7,1073.7 L1449.7,1073.9 L1451.7,1074.2 L1453.7,1074.4 L1455.7,1074.6 L1457.7,1074.9 L1459.7,1075.1 L1461.7,1075.3 L1463.7,1075.6 L1465.7,1075.8 L1467.7,1076.0 L1469.7,1076.2 L1471.7,1076.4 L1473.7,1076.6 L1475.7,1076.8 L1477.7,1077.0 L1479.7,1077.2 L1481.7,1077.4 L1483.7,1077.6 L1485.7,1077.8 L1487.7,1078.0 L1489.7,1078.2 L1491.7,1078.3 L1493.7,1078.5 L1495.7,1078.7 L1497.7,1078.9 L1499.7,1079.0 L1501.7,1079.2 L1503.7,1079.4 L1505.7,1079.5 L1507.7,1079.7 L1509.7,1079.8 L1511.7,1080.0 L1513.7,1080.1 L1515.7,1080.3 L1517.7,1080.4 L1519.7,1080.6 L1521.7,1080.7 L1523.7,1080.9 L1525.7,1081.0 L1527.7,1081.1 L1529.7,1081.3 L1531.7,1081.4 L1533.7,1081.5 L1535.7,1081.6 L1537.7,1081.8 L1539.7,1081.9 L1541.7,1082.0 L1543.7,1082.1 L1545.7,1082.2 L1547.7,1082.3 L1549.7,1082.4 L1551.7,1082.5 L1553.7,1082.6 L1555.7,1082.8 L1557.7,1082.9 L1559.7,1082.9 L1561.7,1083.0 L1563.7,1083.1 L1565.7,1083.2 L1567.7,1083.3 L1569.7,1083.4 L1571.7,1083.5 L1573.7,1083.6 L1575.7,1083.7 L1577.7,1083.8 L1579.7,1083.8 L1581.7,1083.9 L1583.7,1084.0 L1585.7,1084.1 L1587.7,1084.1 L1589.7,1084.2 L1591.7,1084.3 L1593.7,1084.3 L1595.7,1084.4 L1597.7,1084.5 L1600.2,1084.6 L1600.2,1087.0 L233.7,1087.0 Z" stroke="none"/>
<path d="M233.7,1087.0 L235.7,1087.0 L237.7,1087.0 L239.7,1087.0 L241.7,1087.0 L243.7,1087.0 L245.7,1087.0 L247.7,1087.0 L249.7,1087.0 L251.7,1087.0 L253.7,1087.0 L255.7,1087.0 L257.6,1087.0 L259.6,1087.0 L261.6,1087.0 L263.6,1087.0 L265.6,1087.0 L267.6,1087.0 L269.6,1087.0 L271.6,1087.0 L273.6,1087.0 L275.6,1087.0 L277.6,1087.0 L279.6,1087.0 L281.6,1087.0 L283.6,1087.0 L285.6,1087.0 L287.6,1087.0 L289.6,1087.0 L291.6,1087.0 L293.6,1087.0 L295.6,1087.0 L297.6,1087.0 L299.6,1087.0 L301.6,1087.0 L303.6,1087.0 L305.6,1087.0 L307.6,1087.0 L309.6,1087.0 L311.6,1087.0 L313.6,1087.0 L315.6,1087.0 L317.6,1087.0 L319.6,1087.0 L321.6,1087.0 L323.6,1087.0 L325.6,1086.9 L327.6,1086.9 L329.6,1086.9 L331.6,1086.9 L333.6,1086.9 L335.6,1086.9 L337.6,1086.9 L339.6,1086.9 L341.6,1086.9 L343.6,1086.9 L345.6,1086.9 L347.6,1086.9 L349.6,1086.9 L351.6,1086.9 L353.6,1086.9 L355.6,1086.9 L357.6,1086.9 L359.6,1086.9 L361.6,1086.9 L363.6,1086.9 L365.6,1086.9 L367.6,1086.9 L369.6,1086.9 L371.6,1086.9 L373.6,1086.9 L375.6,1086.9 L377.6,1086.9 L379.6,1086.9 L381.6,1086.9 L383.6,1086.9 L385.6,1086.8 L387.6,1086.8 L389.6,1086.8 L391.6,1086.8 L393.6,1086.8 L395.6,1086.8 L397.6,1086.8 L399.6,1086.8 L401.6,1086.8 L403.6,1086.8 L405.6,1086.8 L407.6,1086.8 L409.6,1086.8 L411.6,1086.8 L413.6,1086.8 L415.6,1086.7 L417.6,1086.7 L419.6,1086.7 L421.6,1086.7 L423.6,1086.7 L425.6,1086.7 L427.6,1086.7 L429.6,1086.7 L431.6,1086.7 L433.6,1086.7 L435.6,1086.6 L437.6,1086.6 L439.6,1086.6 L441.6,1086.6 L443.6,1086.6 L445.6,1086.6 L447.6,1086.6 L449.6,1086.5 L451.6,1086.5 L453.6,1086.5 L455.6,1086.5 L457.6,1086.5 L459.6,1086.5 L461.6,1086.5 L463.6,1086.4 L465.6,1086.4 L467.6,1086.4 L469.6,1086.4 L471.6,1086.4 L473.6,1086.3 L475.6,1086.3 L477.6,1086.3 L479.6,1086.3 L481.6,1086.3 L483.6,1086.2 L485.6,1086.2 L487.6,1086.2 L489.6,1086.2 L491.6,1086.1 L493.6,1086.1 L495.6,1086.1 L497.6,1086.1 L499.6,1086.0 L501.6,1086.0 L503.6,1086.0 L505.6,1085.9 L507.6,1085.9 L509.6,1085.9 L511.6,1085.8 L513.6,1085.8 L515.6,1085.8 L517.6,1085.7 L519.6,1085.7 L521.6,1085.7 L523.6,1085.6 L525.6,1085.6 L527.6,1085.5 L529.6,1085.5 L531.6,1085.5 L533.6,1085.4 L535.6,1085.4 L537.6,1085.3 L539.6,1085.3 L541.6,1085.2 L543.6,1085.2 L545.6,1085.1 L547.6,1085.1 L549.6,1085.0 L551.6,1085.0 L553.6,1084.9 L555.6,1084.9 L557.6,1084.8 L559.6,1084.8 L561.6,1084.7 L563.6,1084.6 L565.6,1084.6 L567.6,1084.5 L569.6,1084.4 L571.6,1084.4 L573.6,1084.3 L575.6,1084.2 L577.6,1084.2 L579.6,1084.1 L581.6,1084.0 L583.6,1083.9 L585.6,1083.9 L587.6,1083.8 L589.6,1083.7 L591.6,1083.6 L593.6,1083.5 L595.6,1083.4 L597.6,1083.4 L599.6,1083.3 L601.6,1083.2 L603.6,1083.1 L605.6,1083.0 L607.6,1082.9 L609.6,1082.8 L611.6,1082.7 L613.6,1082.6 L615.6,1082.5 L617.6,1082.4 L619.6,1082.3 L621.6,1082.1 L623.6,1082.0 L625.6,1081.9 L627.6,1081.8 L629.6,1081.7 L631.6,1081.6 L633.6,1081.4 L635.6,1081.3 L637.6,1081.2 L639.6,1081.0 L641.6,1080.9 L643.6,1080.8 L645.6,1080.6 L647.6,1080.5 L649.6,1080.3 L651.6,1080.2 L653.6,1080.0 L655.6,1079.9 L657.6,1079.7 L659.6,1079.6 L661.6,1079.4 L663.6,1079.3 L665.6,1079.1 L667.6,1078.9 L669.6,1078.8 L671.6,1078.6 L673.6,1078.4 L675.6,1078.2 L677.6,1078.0 L679.6,1077.9 L681.6,1077.7 L683.6,1077.5 L685.6,1077.3 L687.6,1077.1 L689.6,1076.9 L691.6,1076.7 L693.6,1076.5 L695.6,1076.3 L697.6,1076.1 L699.6,1075.9 L701.6,1075.6 L703.6,1075.4 L705.6,1075.2 L707.6,1075.0 L709.6,1074.7 L711.6,1074.5 L713.6,1074.3 L715.6,1074.0 L717.6,1073.8 L719.6,1073.5 L721.6,1073.3 L723.6,1073.0 L725.6,1072.8 L727.6,1072.5 L729.6,1072.3 L731.6,1072.0 L733.6,1071.7 L735.6,1071.5 L737.6,1071.2 L739.6,1070.9 L741.6,1070.6 L743.6,1070.3 L745.6,1070.1 L747.6,1069.8 L749.6,1069.5 L751.6,1069.2 L753.6,1068.9 L755.6,1068.6 L757.6,1068.3 L759.6,1068.0 L761.6,1067.7 L763.6,1067.3 L765.6,1067.0 L767.6,1066.7 L769.6,1066.4 L771.6,1066.0 L773.6,1065.7 L775.6,1065.4 L777.6,1065.0 L779.6,1064.7 L781.6,1064.4 L783.6,1064.0 L785.6,1063.7 L787.6,1063.3 L789.6,1063.0 L791.6,1062.6 L793.6,1062.2 L795.6,1061.9 L797.6,1061.5 L799.6,1061.1 L801.6,1060.8 L803.6,1060.4 L805.6,1060.0 L807.6,1059.6 L809.6,1059.3 L811.6,1058.9 L813.6,1058.5 L815.6,1058.1 L817.6,1057.7 L819.6,1057.3 L821.6,1056.9 L823.6,1056.5 L825.6,1056.1 L827.6,1055.7 L829.6,1055.3 L831.6,1054.9 L833.6,1054.5 L835.6,1054.1 L837.6,1053.7 L839.6,1053.3 L841.6,1052.8 L843.6,1052.4 L845.6,1052.0 L847.6,1051.6 L849.6,1051.2 L851.6,1050.7 L853.6,1050.3 L855.6,1049.9 L857.6,1049.5 L859.6,1049.0 L861.6,1048.6 L863.6,1048.2 L865.6,1047.7 L867.6,1047.3 L869.6,1046.9 L871.6,1046.5 L873.6,1046.0 L875.6,1045.6 L877.6,1045.2 L879.6,1044.7 L881.6,1044.3 L883.6,1043.9 L885.6,1043.4 L887.6,1043.0 L889.6,1042.5 L891.6,1042.1 L893.6,1041.7 L895.6,1041.2 L897.6,1040.8 L899.6,1040.4 L901.6,1040.0 L903.6,1039.5 L905.6,1039.1 L907.6,1038.7 L909.6,1038.2 L911.6,1037.8 L913.6,1037.4 L915.6,1037.0 L917.6,1036.5 L919.6,1036.1 L921.6,1035.7 L923.6,1035.3 L925.6,1034.9 L927.6,1034.5 L929.6,1034.0 L931.6,1033.6 L933.6,1033.2 L935.6,1032.8 L937.6,1032.4 L939.6,1032.0 L941.6,1031.6 L943.6,1031.2 L945.6,1030.8 L947.6,1030.5 L949.6,1030.1 L951.6,1029.7 L953.6,1029.3 L955.6,1028.9 L957.6,1028.6 L959.6,1028.2 L961.6,1027.8 L963.6,1027.5 L965.6,1027.1 L967.6,1026.8 L969.6,1026.4 L971.6,1026.1 L973.6,1025.7 L975.6,1025.4 L977.6,1025.1 L979.6,1024.7 L981.6,1024.4 L983.6,1024.1 L985.6,1023.8 L987.6,1023.5 L989.6,1023.2 L991.6,1022.9 L993.6,1022.6 L995.6,1022.3 L997.6,1022.0 L999.6,1021.7 L1001.6,1021.4 L1003.6,1021.2 L1005.6,1020.9 L1007.6,1020.7 L1009.6,1020.4 L1011.6,1020.2 L1013.6,1019.9 L1015.6,1019.7 L1017.6,1019.5 L1019.6,1019.3 L1021.6,1019.0 L1023.6,1018.8 L1025.7,1018.6 L1027.7,1018.4 L1029.7,1018.2 L1031.7,1018.1 L1033.7,1017.9 L1035.7,1017.7 L1037.7,1017.6 L1039.7,1017.4 L1041.7,1017.3 L1043.7,1017.1 L1045.7,1017.0 L1047.7,1016.8 L1049.7,1016.7 L1051.7,1016.6 L1053.7,1016.5 L1055.7,1016.4 L1057.7,1016.3 L1059.7,1016.2 L1061.7,1016.1 L1063.7,1016.1 L1065.7,1016.0 L1067.7,1015.9 L1069.7,1015.9 L1071.7,1015.8 L1073.7,1015.8 L1075.7,1015.8 L1077.7,1015.8 L1079.7,1015.7 L1081.7,1015.7 L1083.7,1015.7 L1085.7,1015.7 L1087.7,1015.7 L1089.7,1015.8 L1091.7,1015.8 L1093.7,1015.8 L1095.7,1015.9 L1097.7,1015.9 L1099.7,1016.0 L1101.7,1016.0 L1103.7,1016.1 L1105.7,1016.2 L1107.7,1016.3 L1109.7,1016.4 L1111.7,1016.5 L1113.7,1016.6 L1115.7,1016.7 L1117.7,1016.8 L1119.7,1016.9 L1121.7,1017.1 L1123.7,1017.2 L1125.7,1017.3 L1127.7,1017.5 L1129.7,1017.7 L1131.7,1017.8 L1133.7,1018.0 L1135.7,1018.2 L1137.7,1018.4 L1139.7,1018.6 L1141.7,1018.8 L1143.7,1019.0 L1145.7,1019.2 L1147.7,1019.4 L1149.7,1019.6 L1151.7,1019.8 L1153.7,1020.1 L1155.7,1020.3 L1157.7,1020.6 L1159.7,1020.8 L1161.7,1021.1 L1163.7,1021.3 L1165.7,1021.6 L1167.7,1021.9 L1169.7,1022.2 L1171.7,1022.5 L1173.7,1022.7 L1175.7,1023.0 L1177.7,1023.3 L1179.7,1023.7 L1181.7,1024.0 L1183.7,1024.3 L1185.7,1024.6 L1187.7,1024.9 L1189.7,1025.3 L1191.7,1025.6 L1193.7,1025.9 L1195.7,1026.3 L1197.7,1026.6 L1199.7,1027.0 L1201.7,1027.3 L1203.7,1027.7 L1205.7,1028.1 L1207.7,1028.4 L1209.7,1028.8 L1211.7,1029.2 L1213.7,1029.5 L1215.7,1029.9 L1217.7,1030.3 L1219.7,1030.7 L1221.7,1031.1 L1223.7,1031.5 L1225.7,1031.9 L1227.7,1032.3 L1229.7,1032.7 L1231.7,1033.1 L1233.7,1033.5 L1235.7,1033.9 L1237.7,1034.3 L1239.7,1034.7 L1241.7,1035.1 L1243.7,1035.5 L1245.7,1036.0 L1247.7,1036.4 L1249.7,1036.8 L1251.7,1037.2 L1253.7,1037.6 L1255.7,1038.1 L1257.7,1038.5 L1259.7,1038.9 L1261.7,1039.4 L1263.7,1039.8 L1265.7,1040.2 L1267.7,1040.7 L1269.7,1041.1 L1271.7,1041.5 L1273.7,1041.9 L1275.7,1042.4 L1277.7,1042.8 L1279.7,1043.3 L1281.7,1043.7 L1283.7,1044.1 L1285.7,1044.6 L1287.7,1045.0 L1289.7,1045.4 L1291.7,1045.9 L1293.7,1046.3 L1295.7,1046.7 L1297.7,1047.2 L1299.7,1047.6 L1301.7,1048.0 L1303.7,1048.4 L1305.7,1048.9 L1307.7,1049.3 L1309.7,1049.7 L1311.7,1050.2 L1313.7,1050.6 L1315.7,1051.0 L1317.7,1051.4 L1319.7,1051.8 L1321.7,1052.3 L1323.7,1052.7 L1325.7,1053.1 L1327.7,1053.5 L1329.7,1053.9 L1331.7,1054.3 L1333.7,1054.7 L1335.7,1055.2 L1337.7,1055.6 L1339.7,1056.0 L1341.7,1056.4 L1343.7,1056.8 L1345.7,1057.2 L1347.7,1057.6 L1349.7,1057.9 L1351.7,1058.3 L1353.7,1058.7 L1355.7,1059.1 L1357.7,1059.5 L1359.7,1059.9 L1361.7,1060.3 L1363.7,1060.6 L1365.7,1061.0 L1367.7,1061.4 L1369.7,1061.7 L1371.7,1062.1 L1373.7,1062.5 L1375.7,1062.8 L1377.7,1063.2 L1379.7,1063.5 L1381.7,1063.9 L1383.7,1064.2 L1385.7,1064.6 L1387.7,1064.9 L1389.7,1065.2 L1391.7,1065.6 L1393.7,1065.9 L1395.7,1066.2 L1397.7,1066.6 L1399.7,1066.9 L1401.7,1067.2 L1403.7,1067.5 L1405.7,1067.8 L1407.7,1068.2 L1409.7,1068.5 L1411.7,1068.8 L1413.7,1069.1 L1415.7,1069.4 L1417.7,1069.7 L1419.7,1070.0 L1421.7,1070.2 L1423.7,1070.5 L1425.7,1070.8 L1427.7,1071.1 L1429.7,1071.4 L1431.7,1071.6 L1433.7,1071.9 L1435.7,1072.2 L1437.7,1072.4 L1439.7,1072.7 L1441.7,1072.9 L1443.7,1073.2 L1445.7,1073.4 L1447.7,1073.7 L1449.7,1073.9 L1451.7,1074.2 L1453.7,1074.4 L1455.7,1074.6 L1457.7,1074.9 L1459.7,1075.1 L1461.7,1075.3 L1463.7,1075.6 L1465.7,1075.8 L1467.7,1076.0 L1469.7,1076.2 L1471.7,1076.4 L1473.7,1076.6 L1475.7,1076.8 L1477.7,1077.0 L1479.7,1077.2 L1481.7,1077.4 L1483.7,1077.6 L1485.7,1077.8 L1487.7,1078.0 L1489.7,1078.2 L1491.7,1078.3 L1493.7,1078.5 L1495.7,1078.7 L1497.7,1078.9 L1499.7,1079.0 L1501.7,1079.2 L1503.7,1079.4 L1505.7,1079.5 L1507.7,1079.7 L1509.7,1079.8 L1511.7,1080.0 L1513.7,1080.1 L1515.7,1080.3 L1517.7,1080.4 L1519.7,1080.6 L1521.7,1080.7 L1523.7,1080.9 L1525.7,1081.0 L1527.7,1081.1 L1529.7,1081.3 L1531.7,1081.4 L1533.7,1081.5 L1535.7,1081.6 L1537.7,1081.8 L1539.7,1081.9 L1541.7,1082.0 L1543.7,1082.1 L1545.7,1082.2 L1547.7,1082.3 L1549.7,1082.4 L1551.7,1082.5 L1553.7,1082.6 L1555.7,1082.8 L1557.7,1082.9 L1559.7,1082.9 L1561.7,1083.0 L1563.7,1083.1 L1565.7,1083.2 L1567.7,1083.3 L1569.7,1083.4 L1571.7,1083.5 L1573.7,1083.6 L1575.7,1083.7 L1577.7,1083.8 L1579.7,1083.8 L1581.7,1083.9 L1583.7,1084.0 L1585.7,1084.1 L1587.7,1084.1 L1589.7,1084.2 L1591.7,1084.3 L1593.7,1084.3 L1595.7,1084.4 L1597.7,1084.5 L1600.2,1084.6" fill="none"/>
</g>
<path d="M233.65,15.9 L1600.2,15.9 L1600.2,1087.4 L233.65,1087.4 Z" fill="none" stroke="#282828" stroke-width="2.4"/>
<path d="M233.7,810.9 L235.7,808.0 L237.7,805.2 L239.7,802.3 L241.7,799.5 L243.7,796.7 L245.7,794.0 L247.7,791.2 L249.7,788.6 L251.7,785.9 L253.7,783.3 L255.7,780.7 L257.6,778.2 L259.6,775.7 L261.6,773.3 L263.6,770.8 L265.6,768.5 L267.6,766.1 L269.6,763.8 L271.6,761.6 L273.6,759.4 L275.6,757.2 L277.6,755.1 L279.6,753.0 L281.6,751.0 L283.6,749.0 L285.6,747.1 L287.6,745.2 L289.6,743.3 L291.6,741.5 L293.6,739.7 L295.6,738.0 L297.6,736.3 L299.6,734.7 L301.6,733.1 L303.6,731.5 L305.6,730.0 L307.6,728.5 L309.6,727.0 L311.6,725.6 L313.6,724.3 L315.6,722.9 L317.6,721.6 L319.6,720.4 L321.6,719.1 L323.6,717.9 L325.6,716.8 L327.6,715.7 L329.6,714.6 L331.6,713.5 L333.6,712.5 L335.6,711.5 L337.6,710.5 L339.6,709.6 L341.6,708.7 L343.6,707.9 L345.6,707.0 L347.6,706.2 L349.6,705.4 L351.6,704.7 L353.6,704.0 L355.6,703.3 L357.6,702.6 L359.6,702.0 L361.6,701.3 L363.6,700.7 L365.6,700.2 L367.6,699.6 L369.6,699.1 L371.6,698.6 L373.6,698.1 L375.6,697.6 L377.6,697.2 L379.6,696.7 L381.6,696.3 L383.6,695.9 L385.6,695.4 L387.6,695.0 L389.6,694.6 L391.6,694.2 L393.6,693.9 L395.6,693.5 L397.6,693.1 L399.6,692.7 L401.6,692.3 L403.6,692.0 L405.6,691.6 L407.6,691.2 L409.6,690.8 L411.6,690.5 L413.6,690.1 L415.6,689.7 L417.6,689.3 L419.6,688.9 L421.6,688.5 L423.6,688.1 L425.6,687.7 L427.6,687.2 L429.6,686.8 L431.6,686.3 L433.6,685.9 L435.6,685.4 L437.6,684.9 L439.6,684.4 L441.6,683.9 L443.6,683.4 L445.6,682.8 L447.6,682.3 L449.6,681.7 L451.6,681.1 L453.6,680.5 L455.6,679.9 L457.6,679.2 L459.6,678.5 L461.6,677.9 L463.6,677.2 L465.6,676.4 L467.6,675.7 L469.6,674.9 L471.6,674.1 L473.6,673.3 L475.6,672.5 L477.6,671.6 L479.6,670.7 L481.6,669.8 L483.6,668.9 L485.6,667.9 L487.6,666.9 L489.6,665.9 L491.6,664.8 L493.6,663.8 L495.6,662.6 L497.6,661.5 L499.6,660.3 L501.6,659.1 L503.6,657.9 L505.6,656.6 L507.6,655.3 L509.6,654.0 L511.6,652.6 L513.6,651.2 L515.6,649.7 L517.6,648.2 L519.6,646.7 L521.6,645.2 L523.6,643.6 L525.6,641.9 L527.6,640.2 L529.6,638.5 L531.6,636.8 L533.6,635.0 L535.6,633.1 L537.6,631.3 L539.6,629.4 L541.6,627.4 L543.6,625.4 L545.6,623.4 L547.6,621.3 L549.6,619.2 L551.6,617.0 L553.6,614.8 L555.6,612.6 L557.6,610.3 L559.6,608.0 L561.6,605.6 L563.6,603.2 L565.6,600.7 L567.6,598.2 L569.6,595.7 L571.6,593.1 L573.6,590.5 L575.6,587.8 L577.6,585.1 L579.6,582.3 L581.6,579.5 L583.6,576.6 L585.6,573.7 L587.6,570.8 L589.6,567.8 L591.6,564.7 L593.6,561.6 L595.6,558.5 L597.6,555.4 L599.6,552.2 L601.6,548.9 L603.6,545.7 L605.6,542.4 L607.6,539.1 L609.6,535.7 L611.6,532.3 L613.6,528.9 L615.6,525.5 L617.6,522.1 L619.6,518.7 L621.6,515.2 L623.6,511.8 L625.6,508.3 L627.6,504.8 L629.6,501.4 L631.6,497.9 L633.6,494.4 L635.6,491.0 L637.6,487.5 L639.6,484.1 L641.6,480.7 L643.6,477.3 L645.6,474.0 L647.6,470.6 L649.6,467.3 L651.6,464.0 L653.6,460.7 L655.6,457.5 L657.6,454.2 L659.6,451.1 L661.6,447.9 L663.6,444.8 L665.6,441.7 L667.6,438.6 L669.6,435.6 L671.6,432.7 L673.6,429.8 L675.6,426.9 L677.6,424.2 L679.6,421.4 L681.6,418.7 L683.6,416.1 L685.6,413.6 L687.6,411.1 L689.6,408.7 L691.6,406.4 L693.6,404.1 L695.6,401.9 L697.6,399.8 L699.6,397.8 L701.6,395.8 L703.6,394.0 L705.6,392.2 L707.6,390.5 L709.6,389.0 L711.6,387.5 L713.6,386.1 L715.6,384.8 L717.6,383.6 L719.6,382.5 L721.6,381.5 L723.6,380.6 L725.6,379.8 L727.6,379.2 L729.6,378.6 L731.6,378.1 L733.6,377.8 L735.6,377.5 L737.6,377.4 L739.6,377.4 L741.6,377.5 L743.6,377.7 L745.6,378.0 L747.6,378.4 L749.6,378.9 L751.6,379.6 L753.6,380.4 L755.6,381.2 L757.6,382.2 L759.6,383.3 L761.6,384.5 L763.6,385.8 L765.6,387.3 L767.6,388.8 L769.6,390.4 L771.6,392.2 L773.6,394.1 L775.6,396.0 L777.6,398.1 L779.6,400.3 L781.6,402.5 L783.6,404.9 L785.6,407.3 L787.6,409.9 L789.6,412.6 L791.6,415.3 L793.6,418.1 L795.6,421.0 L797.6,424.1 L799.6,427.1 L801.6,430.3 L803.6,433.6 L805.6,436.9 L807.6,440.3 L809.6,443.8 L811.6,447.3 L813.6,450.9 L815.6,454.6 L817.6,458.4 L819.6,462.2 L821.6,466.1 L823.6,470.0 L825.6,473.9 L827.6,478.0 L829.6,482.0 L831.6,486.2 L833.6,490.3 L835.6,494.5 L837.6,498.7 L839.6,503.0 L841.6,507.3 L843.6,511.6 L845.6,516.0 L847.6,520.3 L849.6,524.7 L851.6,529.1 L853.6,533.6 L855.6,538.0 L857.6,542.4 L859.6,546.9 L861.6,551.3 L863.6,555.8 L865.6,560.3 L867.6,564.7 L869.6,569.2 L871.6,573.6 L873.6,578.0 L875.6,582.5 L877.6,586.9 L879.6,591.3 L881.6,595.6 L883.6,600.0 L885.6,604.3 L887.6,608.6 L889.6,612.9 L891.6,617.2 L893.6,621.4 L895.6,625.6 L897.6,629.8 L899.6,633.9 L901.6,638.0 L903.6,642.1 L905.6,646.1 L907.6,650.1 L909.6,654.1 L911.6,658.0 L913.6,661.9 L915.6,665.8 L917.6,669.6 L919.6,673.3 L921.6,677.1 L923.6,680.7 L925.6,684.4 L927.6,688.0 L929.6,691.5 L931.6,695.0 L933.6,698.5 L935.6,701.9 L937.6,705.3 L939.6,708.7 L941.6,711.9 L943.6,715.2 L945.6,718.4 L947.6,721.5 L949.6,724.7 L951.6,727.7 L953.6,730.8 L955.6,733.7 L957.6,736.7 L959.6,739.6 L961.6,742.4 L963.6,745.2 L965.6,748.0 L967.6,750.7 L969.6,753.4 L971.6,756.1 L973.6,758.7 L975.6,761.3 L977.6,763.8 L979.6,766.3 L981.6,768.7 L983.6,771.2 L985.6,773.6 L987.6,775.9 L989.6,778.2 L991.6,780.5 L993.6,782.8 L995.6,785.0 L997.6,787.2 L999.6,789.3 L1001.6,791.5 L1003.6,793.6 L1005.6,795.6 L1007.6,797.7 L1009.6,799.7 L1011.6,801.7 L1013.6,803.7 L1015.6,805.6 L1017.6,807.5 L1019.6,809.4 L1021.6,811.3 L1023.6,813.2 L1025.7,815.0 L1027.7,816.8 L1029.7,818.7 L1031.7,820.4 L1033.7,822.2 L1035.7,824.0 L1037.7,825.7 L1039.7,827.4 L1041.7,829.1 L1043.7,830.8 L1045.7,832.5 L1047.7,834.2 L1049.7,835.8 L1051.7,837.5 L1053.7,839.1 L1055.7,840.8 L1057.7,842.4 L1059.7,844.0 L1061.7,845.6 L1063.7,847.2 L1065.7,848.8 L1067.7,850.4 L1069.7,851.9 L1071.7,853.5 L1073.7,855.1 L1075.7,856.6 L1077.7,858.2 L1079.7,859.7 L1081.7,861.3 L1083.7,862.8 L1085.7,864.3 L1087.7,865.9 L1089.7,867.4 L1091.7,868.9 L1093.7,870.4 L1095.7,872.0 L1097.7,873.5 L1099.7,875.0 L1101.7,876.5 L1103.7,878.0 L1105.7,879.5 L1107.7,881.1 L1109.7,882.6 L1111.7,884.1 L1113.7,885.6 L1115.7,887.1 L1117.7,888.6 L1119.7,890.1 L1121.7,891.6 L1123.7,893.1 L1125.7,894.6 L1127.7,896.1 L1129.7,897.6 L1131.7,899.1 L1133.7,900.6 L1135.7,902.1 L1137.7,903.6 L1139.7,905.1 L1141.7,906.6 L1143.7,908.1 L1145.7,909.6 L1147.7,911.1 L1149.7,912.6 L1151.7,914.1 L1153.7,915.6 L1155.7,917.1 L1157.7,918.6 L1159.7,920.1 L1161.7,921.6 L1163.7,923.1 L1165.7,924.5 L1167.7,926.0 L1169.7,927.5 L1171.7,929.0 L1173.7,930.5 L1175.7,931.9 L1177.7,933.4 L1179.7,934.9 L1181.7,936.4 L1183.7,937.8 L1185.7,939.3 L1187.7,940.7 L1189.7,942.2 L1191.7,943.6 L1193.7,945.1 L1195.7,946.5 L1197.7,948.0 L1199.7,949.4 L1201.7,950.8 L1203.7,952.3 L1205.7,953.7 L1207.7,955.1 L1209.7,956.5 L1211.7,957.9 L1213.7,959.3 L1215.7,960.7 L1217.7,962.1 L1219.7,963.5 L1221.7,964.9 L1223.7,966.3 L1225.7,967.7 L1227.7,969.0 L1229.7,970.4 L1231.7,971.7 L1233.7,973.1 L1235.7,974.4 L1237.7,975.8 L1239.7,977.1 L1241.7,978.4 L1243.7,979.7 L1245.7,981.0 L1247.7,982.3 L1249.7,983.6 L1251.7,984.9 L1253.7,986.2 L1255.7,987.4 L1257.7,988.7 L1259.7,990.0 L1261.7,991.2 L1263.7,992.4 L1265.7,993.7 L1267.7,994.9 L1269.7,996.1 L1271.7,997.3 L1273.7,998.5 L1275.7,999.7 L1277.7,1000.9 L1279.7,1002.0 L1281.7,1003.2 L1283.7,1004.3 L1285.7,1005.5 L1287.7,1006.6 L1289.7,1007.7 L1291.7,1008.9 L1293.7,1010.0 L1295.7,1011.1 L1297.7,1012.1 L1299.7,1013.2 L1301.7,1014.3 L1303.7,1015.3 L1305.7,1016.4 L1307.7,1017.4 L1309.7,1018.5 L1311.7,1019.5 L1313.7,1020.5 L1315.7,1021.5 L1317.7,1022.5 L1319.7,1023.5 L1321.7,1024.4 L1323.7,1025.4 L1325.7,1026.4 L1327.7,1027.3 L1329.7,1028.2 L1331.7,1029.2 L1333.7,1030.1 L1335.7,1031.0 L1337.7,1031.9 L1339.7,1032.8 L1341.7,1033.6 L1343.7,1034.5 L1345.7,1035.4 L1347.7,1036.2 L1349.7,1037.0 L1351.7,1037.9 L1353.7,1038.7 L1355.7,1039.5 L1357.7,1040.3 L1359.7,1041.1 L1361.7,1041.9 L1363.7,1042.6 L1365.7,1043.4 L1367.7,1044.2 L1369.7,1044.9 L1371.7,1045.6 L1373.7,1046.4 L1375.7,1047.1 L1377.7,1047.8 L1379.7,1048.5 L1381.7,1049.2 L1383.7,1049.8 L1385.7,1050.5 L1387.7,1051.2 L1389.7,1051.8 L1391.7,1052.5 L1393.7,1053.1 L1395.7,1053.7 L1397.7,1054.3 L1399.7,1054.9 L1401.7,1055.5 L1403.7,1056.1 L1405.7,1056.7 L1407.7,1057.3 L1409.7,1057.8 L1411.7,1058.4 L1413.7,1058.9 L1415.7,1059.5 L1417.7,1060.0 L1419.7,1060.5 L1421.7,1061.1 L1423.7,1061.6 L1425.7,1062.1 L1427.7,1062.6 L1429.7,1063.1 L1431.7,1063.5 L1433.7,1064.0 L1435.7,1064.5 L1437.7,1064.9 L1439.7,1065.4 L1441.7,1065.8 L1443.7,1066.2 L1445.7,1066.7 L1447.7,1067.1 L1449.7,1067.5 L1451.7,1067.9 L1453.7,1068.3 L1455.7,1068.7 L1457.7,1069.1 L1459.7,1069.5 L1461.7,1069.8 L1463.7,1070.2 L1465.7,1070.6 L1467.7,1070.9 L1469.7,1071.3 L1471.7,1071.6 L1473.7,1071.9 L1475.7,1072.3 L1477.7,1072.6 L1479.7,1072.9 L1481.7,1073.2 L1483.7,1073.5 L1485.7,1073.8 L1487.7,1074.1 L1489.7,1074.4 L1491.7,1074.7 L1493.7,1075.0 L1495.7,1075.2 L1497.7,1075.5 L1499.7,1075.8 L1501.7,1076.0 L1503.7,1076.3 L1505.7,1076.5 L1507.7,1076.8 L1509.7,1077.0 L1511.7,1077.2 L1513.7,1077.5 L1515.7,1077.7 L1517.7,1077.9 L1519.7,1078.1 L1521.7,1078.3 L1523.7,1078.6 L1525.7,1078.8 L1527.7,1079.0 L1529.7,1079.1 L1531.7,1079.3 L1533.7,1079.5 L1535.7,1079.7 L1537.7,1079.9 L1539.7,1080.1 L1541.7,1080.2 L1543.7,1080.4 L1545.7,1080.6 L1547.7,1080.7 L1549.7,1080.9 L1551.7,1081.0 L1553.7,1081.2 L1555.7,1081.3 L1557.7,1081.5 L1559.7,1081.6 L1561.7,1081.8 L1563.7,1081.9 L1565.7,1082.0 L1567.7,1082.2 L1569.7,1082.3 L1571.7,1082.4 L1573.7,1082.5 L1575.7,1082.6 L1577.7,1082.8 L1579.7,1082.9 L1581.7,1083.0 L1583.7,1083.1 L1585.7,1083.2 L1587.7,1083.3 L1589.7,1083.4 L1591.7,1083.5 L1593.7,1083.6 L1595.7,1083.7 L1597.7,1083.8 L1600.2,1083.9" fill="none" stroke="#000" stroke-width="4.5" stroke-linejoin="round"/>
<g stroke="#000" fill="none">
<path d="M233.7,1089.9 L233.7,1070.3" stroke-width="4.0"/>
<path d="M404.5,1089.9 L404.5,1070.3" stroke-width="4.0"/>
<path d="M575.3,1089.9 L575.3,1070.3" stroke-width="4.0"/>
<path d="M746.1,1089.9 L746.1,1070.3" stroke-width="4.0"/>
<path d="M916.9,1089.9 L916.9,1070.3" stroke-width="4.0"/>
<path d="M1087.7,1089.9 L1087.7,1070.3" stroke-width="4.0"/>
<path d="M1258.6,1089.9 L1258.6,1070.3" stroke-width="4.0"/>
<path d="M1429.4,1089.9 L1429.4,1070.3" stroke-width="4.0"/>
<path d="M1600.2,1089.9 L1600.2,1070.3" stroke-width="4.0"/>
</g>
<g stroke="#000" stroke-width="4.6" fill="none">
<path d="M238.75,473.5 A7,36.80000000000001 0 0 1 245.75,436.7 L330,436.7 A7,36.19999999999999 0 0 0 337,400.5 A7,36.19999999999999 0 0 0 344,436.7 L428.25,436.7 A7,36.80000000000001 0 0 1 435.25,473.5"/>
<path d="M359.3,287.7 A7,40.099999999999994 0 0 1 366.3,247.6 L587.8,247.6 A7,41.29999999999998 0 0 0 594.8,206.3 A7,41.29999999999998 0 0 0 601.8,247.6 L822.7,247.6 A7,40.099999999999994 0 0 1 829.7,287.7"/>
<path d="M879.9,370 A7.3,38.69999999999999 0 0 1 887.1999999999999,331.3 L1225.7,331.3 A7.3,39.5 0 0 0 1233,291.8 A7.3,39.5 0 0 0 1240.3,331.3 L1578.7,331.3 A7.3,38.69999999999999 0 0 1 1586,370"/>
</g>
<text><tspan x="192.47" y="1145.0" font-size="54.3" stroke-width="0" textLength="90.55" lengthAdjust="spacingAndGlyphs">200</tspan></text>
<text><tspan x="532.73" y="1145.0" font-size="54.3" stroke-width="0" textLength="90.69" lengthAdjust="spacingAndGlyphs">300</tspan></text>
<text><tspan x="874.47" y="1145.0" font-size="54.3" stroke-width="0" textLength="89.74" lengthAdjust="spacingAndGlyphs">400</tspan></text>
<text><tspan x="1215.43" y="1145.0" font-size="54.3" stroke-width="0" textLength="90.39" lengthAdjust="spacingAndGlyphs">500</tspan></text>
<text><tspan x="1555.32" y="1145.0" font-size="54.3" stroke-width="0" textLength="91.32" lengthAdjust="spacingAndGlyphs">600</tspan></text>
<text><tspan x="708.83" y="1230.7" font-size="64.5" stroke-width="0.5" textLength="158.22" lengthAdjust="spacingAndGlyphs">Wave</tspan><tspan x="868.27" y="1230.7" font-size="64.5" stroke-width="0.5" textLength="179.1" lengthAdjust="spacingAndGlyphs">length</tspan> <tspan x="1060.94" y="1230.7" font-size="64.5" stroke-width="0.5" textLength="134.62" lengthAdjust="spacingAndGlyphs">(nm)</tspan></text>
<text transform="rotate(-90)"><tspan x="-912.12" y="61.6" font-size="64" stroke-width="0.5" textLength="357.55" lengthAdjust="spacingAndGlyphs">Absorbance,</tspan></text>
<text transform="rotate(-90)"><tspan x="-913.49" y="147" font-size="64" stroke-width="0.5" textLength="221.89" lengthAdjust="spacingAndGlyphs">alumina</tspan> <tspan x="-667.82" y="147" font-size="64" stroke-width="0.5" textLength="305.03" lengthAdjust="spacingAndGlyphs">subtracted</tspan> <tspan x="-345.26" y="147" font-size="64" stroke-width="0.5" textLength="145.22" lengthAdjust="spacingAndGlyphs">(a.u.)</tspan></text>
<text><tspan x="301.29" y="369.6" font-size="65" stroke-width="0.5" textLength="37.62" lengthAdjust="spacingAndGlyphs">A</tspan><tspan x="340.01" y="369.6" font-size="65" stroke-width="0.5" textLength="34.26" lengthAdjust="spacingAndGlyphs">g</tspan><tspan x="372.46" y="351.4" font-size="44" stroke-width="0.5" textLength="24.34" lengthAdjust="spacingAndGlyphs">+</tspan></text>
<text><tspan x="542.59" y="167.8" font-size="65" stroke-width="0.5" textLength="36.92" lengthAdjust="spacingAndGlyphs">A</tspan><tspan x="580.45" y="167.8" font-size="65" stroke-width="0.5" textLength="36.36" lengthAdjust="spacingAndGlyphs">g</tspan><tspan x="614.26" y="183.3" font-size="44" stroke-width="0.5" textLength="24.61" lengthAdjust="spacingAndGlyphs">n</tspan><tspan x="638.98" y="147.3" font-size="44.5" stroke-width="0.5" textLength="24.17" lengthAdjust="spacingAndGlyphs">δ</tspan><tspan x="663.37" y="149.8" font-size="44" stroke-width="0.5" textLength="25.48" lengthAdjust="spacingAndGlyphs">+</tspan></text>
<text><tspan x="1184.89" y="245.2" font-size="65" stroke-width="0.5" textLength="37.62" lengthAdjust="spacingAndGlyphs">A</tspan><tspan x="1223.42" y="245.2" font-size="65" stroke-width="0.5" textLength="35.49" lengthAdjust="spacingAndGlyphs">g</tspan><tspan x="1256.33" y="225.0" font-size="44" stroke-width="0.5" textLength="25.25" lengthAdjust="spacingAndGlyphs">0</tspan></text>
</g></svg></body></html>
